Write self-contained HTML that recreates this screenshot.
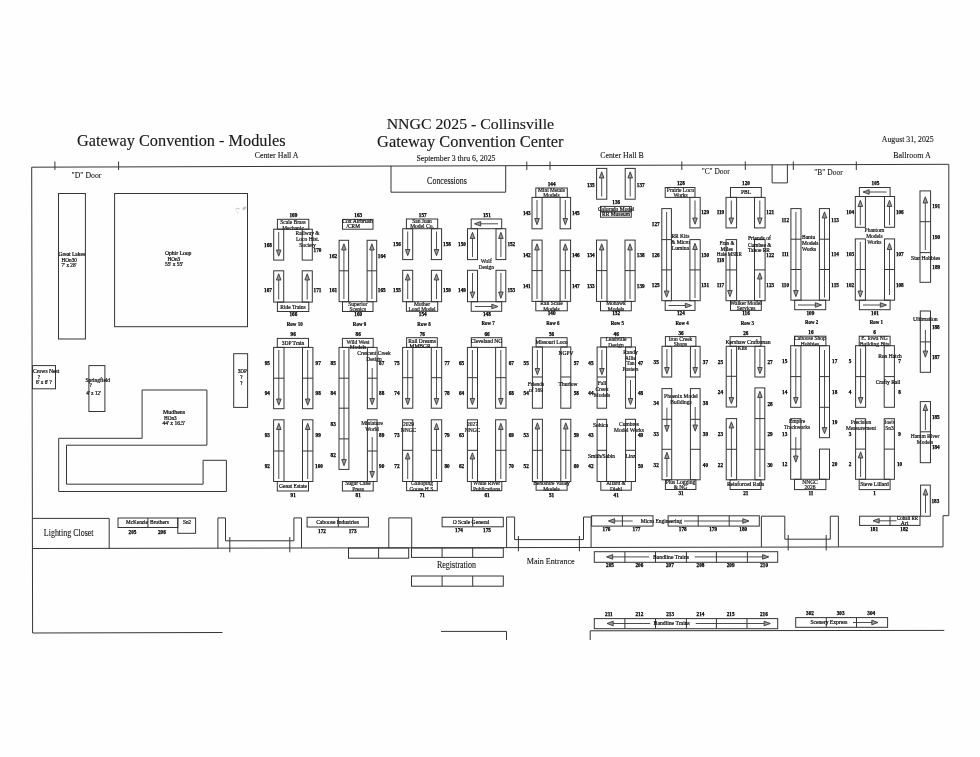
<!DOCTYPE html>
<html><head><meta charset="utf-8"><title>NNGC 2025 Floor Plan</title>
<style>
html,body{margin:0;padding:0;background:#fff;}
svg{display:block;font-family:"Liberation Serif",serif;will-change:transform;}
</style></head><body>
<svg width="980" height="757" viewBox="0 0 980 757">
<rect x="0" y="0" width="980" height="757" fill="#fefefe"/>
<text x="181.3" y="145.8" font-size="16" text-anchor="middle" textLength="208.5" lengthAdjust="spacingAndGlyphs" fill="#1a1a1a" stroke="#1a1a1a" stroke-width="0.15">Gateway Convention - Modules</text>
<text x="470.4" y="129.4" font-size="15.5" text-anchor="middle" textLength="167.4" lengthAdjust="spacingAndGlyphs" fill="#1a1a1a" stroke="#1a1a1a" stroke-width="0.15">NNGC 2025 - Collinsville</text>
<text x="470.3" y="147.2" font-size="16" text-anchor="middle" textLength="186.4" lengthAdjust="spacingAndGlyphs" fill="#1a1a1a" stroke="#1a1a1a" stroke-width="0.15">Gateway Convention Center</text>
<text x="456.0" y="161.0" font-size="8.6" text-anchor="middle" textLength="79.0" lengthAdjust="spacingAndGlyphs" fill="#111" stroke="#111" stroke-width="0.1">September 3 thru 6, 2025</text>
<text x="276.6" y="158.4" font-size="8.6" text-anchor="middle" textLength="43.9" lengthAdjust="spacingAndGlyphs" fill="#111" stroke="#111" stroke-width="0.1">Center Hall A</text>
<text x="622.0" y="158.4" font-size="8.6" text-anchor="middle" textLength="43.6" lengthAdjust="spacingAndGlyphs" fill="#111" stroke="#111" stroke-width="0.1">Center Hall B</text>
<text x="907.7" y="141.6" font-size="8.6" text-anchor="middle" textLength="51.8" lengthAdjust="spacingAndGlyphs" fill="#111" stroke="#111" stroke-width="0.1">August 31, 2025</text>
<text x="912.0" y="157.6" font-size="8.6" text-anchor="middle" textLength="37.5" lengthAdjust="spacingAndGlyphs" fill="#111" stroke="#111" stroke-width="0.1">Ballroom A</text>
<text x="86.5" y="178.4" font-size="9" text-anchor="middle" textLength="29.8" lengthAdjust="spacingAndGlyphs" fill="#111" stroke="#111" stroke-width="0.1">"D" Door</text>
<text x="715.7" y="174.4" font-size="9" text-anchor="middle" textLength="28.1" lengthAdjust="spacingAndGlyphs" fill="#111" stroke="#111" stroke-width="0.1">"C" Door</text>
<text x="828.5" y="174.9" font-size="9" text-anchor="middle" textLength="28.6" lengthAdjust="spacingAndGlyphs" fill="#111" stroke="#111" stroke-width="0.1">"B" Door</text>
<text x="447.0" y="184.1" font-size="9.3" text-anchor="middle" textLength="39.8" lengthAdjust="spacingAndGlyphs" fill="#111" stroke="#111" stroke-width="0.1">Concessions</text>
<text x="68.7" y="536.4" font-size="9.3" text-anchor="middle" textLength="49.7" lengthAdjust="spacingAndGlyphs" fill="#111" stroke="#111" stroke-width="0.1">Lighting Closet</text>
<text x="456.5" y="568.3" font-size="9.3" text-anchor="middle" textLength="39.0" lengthAdjust="spacingAndGlyphs" fill="#111" stroke="#111" stroke-width="0.1">Registration</text>
<text x="550.7" y="564.0" font-size="9.0" text-anchor="middle" textLength="47.9" lengthAdjust="spacingAndGlyphs" fill="#111" stroke="#111" stroke-width="0.1">Main Entrance</text>
<line x1="31.7" y1="167.2" x2="948.8" y2="164.3" stroke="#353535" stroke-width="1.0"/>
<line x1="31.7" y1="167.2" x2="32.6" y2="633.0" stroke="#353535" stroke-width="1.0"/>
<line x1="948.8" y1="164.3" x2="948.8" y2="515.7" stroke="#353535" stroke-width="1.0"/>
<polyline points="948.8,515.7 943.0,515.7 943.0,546.9 838.4,546.9" fill="none" stroke="#353535" stroke-width="1.0"/>
<line x1="32.6" y1="548.5" x2="838.4" y2="547.0" stroke="#353535" stroke-width="1.0"/>
<line x1="32.6" y1="633.0" x2="222.5" y2="632.5" stroke="#353535" stroke-width="1.0"/>
<line x1="441.0" y1="631.4" x2="506.5" y2="631.4" stroke="#353535" stroke-width="1.0"/>
<line x1="506.5" y1="631.4" x2="506.5" y2="640.0" stroke="#353535" stroke-width="1.0"/>
<line x1="590.2" y1="630.8" x2="944.3" y2="630.4" stroke="#353535" stroke-width="1.0"/>
<line x1="590.2" y1="630.8" x2="590.2" y2="640.0" stroke="#353535" stroke-width="1.0"/>
<line x1="54.9" y1="161.5" x2="54.9" y2="170.0" stroke="#353535" stroke-width="1.0"/>
<line x1="118.6" y1="161.5" x2="118.6" y2="170.0" stroke="#353535" stroke-width="1.0"/>
<line x1="526.8" y1="161.5" x2="526.8" y2="170.0" stroke="#353535" stroke-width="1.0"/>
<line x1="550.0" y1="161.5" x2="550.0" y2="170.0" stroke="#353535" stroke-width="1.0"/>
<line x1="681.8" y1="161.5" x2="681.8" y2="170.0" stroke="#353535" stroke-width="1.0"/>
<line x1="745.3" y1="161.5" x2="745.3" y2="170.0" stroke="#353535" stroke-width="1.0"/>
<line x1="793.3" y1="161.5" x2="793.3" y2="170.0" stroke="#353535" stroke-width="1.0"/>
<line x1="856.3" y1="161.5" x2="856.3" y2="170.0" stroke="#353535" stroke-width="1.0"/>
<polyline points="772.1,164.5 772.1,182.9 787.4,182.9 787.4,164.5" fill="none" stroke="#353535" stroke-width="1.0"/>
<polyline points="391.0,165.7 391.0,192.2 505.7,192.2 505.7,165.7" fill="none" stroke="#353535" stroke-width="1.0"/>
<polyline points="217.9,548.3 217.9,517.9 225.5,517.9 225.5,540.8 293.9,540.8 293.9,517.9 301.5,517.9 301.5,548.0" fill="none" stroke="#353535" stroke-width="1.0"/>
<line x1="229.8" y1="537.0" x2="229.8" y2="552.3" stroke="#353535" stroke-width="1.0"/>
<line x1="289.8" y1="537.0" x2="289.8" y2="552.3" stroke="#353535" stroke-width="1.0"/>
<polyline points="388.8,548.0 388.8,517.9 411.7,517.9 411.7,548.0" fill="none" stroke="#353535" stroke-width="1.0"/>
<polyline points="506.6,547.5 506.6,517.0 514.6,517.0 514.6,539.6 583.5,539.6 583.5,517.0 591.1,517.0 591.1,547.3" fill="none" stroke="#353535" stroke-width="1.0"/>
<line x1="518.4" y1="536.0" x2="518.4" y2="551.3" stroke="#353535" stroke-width="1.0"/>
<line x1="579.4" y1="536.0" x2="579.4" y2="551.3" stroke="#353535" stroke-width="1.0"/>
<polyline points="761.4,547.0 761.4,516.2 784.8,516.2 784.8,539.2 830.3,539.2 830.3,516.2 838.4,516.2 838.4,546.9" fill="none" stroke="#353535" stroke-width="1.0"/>
<line x1="788.2" y1="535.0" x2="788.2" y2="550.5" stroke="#353535" stroke-width="1.0"/>
<line x1="826.2" y1="535.0" x2="826.2" y2="550.5" stroke="#353535" stroke-width="1.0"/>
<rect x="58.5" y="193.5" width="26.9" height="145.5" fill="none" stroke="#353535" stroke-width="1.0"/>
<text x="58.5" y="256.1" font-size="5.2" text-anchor="start" textLength="26.5" lengthAdjust="spacingAndGlyphs" fill="#111" stroke="#111" stroke-width="0.22">Great Lakes</text>
<text x="61.6" y="261.7" font-size="5.2" text-anchor="start" fill="#111" stroke="#111" stroke-width="0.22">HOn30</text>
<text x="61.6" y="267.1" font-size="5.2" text-anchor="start" fill="#111" stroke="#111" stroke-width="0.22">7' x 28'</text>
<rect x="114.6" y="193.5" width="132.9" height="133.2" fill="none" stroke="#353535" stroke-width="1.0"/>
<text x="164.9" y="255.3" font-size="5.3" text-anchor="start" textLength="26.5" lengthAdjust="spacingAndGlyphs" fill="#111" stroke="#111" stroke-width="0.22">Ophir Loop</text>
<text x="167.4" y="260.7" font-size="5.2" text-anchor="start" fill="#111" stroke="#111" stroke-width="0.22">HOn3</text>
<text x="164.9" y="266.3" font-size="5.3" text-anchor="start" textLength="18.4" lengthAdjust="spacingAndGlyphs" fill="#111" stroke="#111" stroke-width="0.22">55' x 55'</text>
<rect x="32.5" y="365.6" width="23.0" height="23.2" fill="none" stroke="#353535" stroke-width="1.0"/>
<text x="33.0" y="372.8" font-size="5.3" text-anchor="start" textLength="26.2" lengthAdjust="spacingAndGlyphs" fill="#111" stroke="#111" stroke-width="0.22">Crows Nest</text>
<text x="38.9" y="378.6" font-size="5.2" text-anchor="middle" fill="#111" stroke="#111" stroke-width="0.22">?</text>
<text x="36.0" y="384.4" font-size="5.2" text-anchor="start" fill="#111" stroke="#111" stroke-width="0.22">6' x 6' ?</text>
<rect x="88.9" y="365.6" width="16.0" height="45.9" fill="none" stroke="#353535" stroke-width="1.0"/>
<text x="85.4" y="381.5" font-size="5.3" text-anchor="start" textLength="24.7" lengthAdjust="spacingAndGlyphs" fill="#111" stroke="#111" stroke-width="0.22">Springfield</text>
<text x="90.6" y="387.3" font-size="5.2" text-anchor="middle" fill="#111" stroke="#111" stroke-width="0.22">?</text>
<text x="86.3" y="394.6" font-size="5.2" text-anchor="start" fill="#111" stroke="#111" stroke-width="0.22">4' x 12'</text>
<rect x="233.7" y="353.7" width="13.9" height="53.7" fill="none" stroke="#353535" stroke-width="1.0"/>
<text x="242.3" y="373.1" font-size="5.2" text-anchor="middle" fill="#111" stroke="#111" stroke-width="0.22">3DP</text>
<text x="241.5" y="378.9" font-size="5.2" text-anchor="middle" fill="#111" stroke="#111" stroke-width="0.22">?</text>
<text x="241.5" y="384.7" font-size="5.2" text-anchor="middle" fill="#111" stroke="#111" stroke-width="0.22">?</text>
<polygon points="142.1,390.0 206.9,390.0 206.9,445.2 66.5,445.2 66.5,484.2 203.1,484.2 203.1,460.3 226.4,460.3 226.4,491.5 58.7,491.5 58.7,438.3 142.1,438.3" fill="none" stroke="#353535" stroke-width="1.0"/>
<text x="163.0" y="413.8" font-size="5.3" text-anchor="start" textLength="22.1" lengthAdjust="spacingAndGlyphs" fill="#111" stroke="#111" stroke-width="0.22">Mudhens</text>
<text x="163.9" y="419.6" font-size="5.2" text-anchor="start" fill="#111" stroke="#111" stroke-width="0.22">HOn3</text>
<text x="162.4" y="425.1" font-size="5.3" text-anchor="start" textLength="22.7" lengthAdjust="spacingAndGlyphs" fill="#111" stroke="#111" stroke-width="0.22">44' x 16.5'</text>
<polyline points="32.6,518.4 109.2,518.4 109.2,548.5" fill="none" stroke="#353535" stroke-width="1.0"/>
<rect x="118.0" y="518.0" width="59.8" height="9.5" fill="none" stroke="#353535" stroke-width="1.0"/>
<line x1="147.9" y1="518.0" x2="147.9" y2="527.5" stroke="#353535" stroke-width="1.0"/>
<text x="126.0" y="524.1" font-size="5.5" text-anchor="start" textLength="21.9" lengthAdjust="spacingAndGlyphs" fill="#111" stroke="#111" stroke-width="0.22">McKenzie</text>
<text x="150.0" y="524.1" font-size="5.5" text-anchor="start" textLength="18.8" lengthAdjust="spacingAndGlyphs" fill="#111" stroke="#111" stroke-width="0.22">Brothers</text>
<rect x="177.8" y="518.0" width="17.8" height="15.3" fill="none" stroke="#353535" stroke-width="1.0"/>
<text x="187.1" y="524.0" font-size="5.2" text-anchor="middle" fill="#111" stroke="#111" stroke-width="0.22">Sn2</text>
<text x="132.5" y="533.6" font-size="5.2" text-anchor="middle" font-weight="bold" fill="#000" stroke="#000" stroke-width="0.25">205</text>
<text x="161.9" y="533.6" font-size="5.2" text-anchor="middle" font-weight="bold" fill="#000" stroke="#000" stroke-width="0.25">206</text>
<rect x="307.1" y="517.3" width="61.3" height="9.7" fill="none" stroke="#353535" stroke-width="1.0"/>
<line x1="338.3" y1="517.3" x2="338.3" y2="527.0" stroke="#353535" stroke-width="1.0"/>
<text x="337.5" y="523.7" font-size="5.6" text-anchor="middle" textLength="42.7" lengthAdjust="spacingAndGlyphs" fill="#111" stroke="#111" stroke-width="0.22">Caboose Industries</text>
<text x="322.0" y="532.9" font-size="5.2" text-anchor="middle" font-weight="bold" fill="#000" stroke="#000" stroke-width="0.25">172</text>
<text x="352.6" y="532.9" font-size="5.2" text-anchor="middle" font-weight="bold" fill="#000" stroke="#000" stroke-width="0.25">173</text>
<rect x="442.1" y="517.3" width="61.2" height="9.5" fill="none" stroke="#353535" stroke-width="1.0"/>
<line x1="472.7" y1="517.3" x2="472.7" y2="526.8" stroke="#353535" stroke-width="1.0"/>
<text x="471.0" y="523.7" font-size="5.6" text-anchor="middle" textLength="36.7" lengthAdjust="spacingAndGlyphs" fill="#111" stroke="#111" stroke-width="0.22">O Scale General</text>
<text x="459.0" y="532.3" font-size="5.2" text-anchor="middle" font-weight="bold" fill="#000" stroke="#000" stroke-width="0.25">174</text>
<text x="487.0" y="532.3" font-size="5.2" text-anchor="middle" font-weight="bold" fill="#000" stroke="#000" stroke-width="0.25">175</text>
<rect x="348.5" y="548.0" width="60.2" height="10.2" fill="none" stroke="#353535" stroke-width="1.0"/>
<line x1="378.6" y1="548.0" x2="378.6" y2="558.2" stroke="#353535" stroke-width="1.0"/>
<rect x="411.5" y="548.0" width="91.8" height="9.4" fill="none" stroke="#353535" stroke-width="1.0"/>
<line x1="442.1" y1="548.0" x2="442.1" y2="557.4" stroke="#353535" stroke-width="1.0"/>
<line x1="472.7" y1="548.0" x2="472.7" y2="557.4" stroke="#353535" stroke-width="1.0"/>
<rect x="411.5" y="576.0" width="91.8" height="10.2" fill="none" stroke="#353535" stroke-width="1.0"/>
<line x1="442.1" y1="576.0" x2="442.1" y2="586.2" stroke="#353535" stroke-width="1.0"/>
<line x1="472.7" y1="576.0" x2="472.7" y2="586.2" stroke="#353535" stroke-width="1.0"/>
<rect x="591.6" y="515.8" width="61.4" height="10.3" fill="none" stroke="#353535" stroke-width="1.0"/>
<line x1="622.4" y1="515.8" x2="622.4" y2="526.1" stroke="#353535" stroke-width="1.0"/>
<rect x="668.1" y="515.8" width="91.2" height="10.3" fill="none" stroke="#353535" stroke-width="1.0"/>
<line x1="698.2" y1="515.8" x2="698.2" y2="526.1" stroke="#353535" stroke-width="1.0"/>
<line x1="729.2" y1="515.8" x2="729.2" y2="526.1" stroke="#353535" stroke-width="1.0"/>
<line x1="632.7" y1="521.0" x2="609.9" y2="521.0" stroke="#3a3a3a" stroke-width="0.9"/>
<polygon points="614.6,518.7 608.4,521.0 614.6,523.3" fill="#999" stroke="#3a3a3a" stroke-width="0.9" stroke-linejoin="round"/>
<text x="661.4" y="522.8" font-size="5.6" text-anchor="middle" textLength="41.3" lengthAdjust="spacingAndGlyphs" fill="#111" stroke="#111" stroke-width="0.22">Micro Engineering</text>
<line x1="684.0" y1="521.0" x2="747.5" y2="521.0" stroke="#3a3a3a" stroke-width="0.9"/>
<polygon points="742.8,518.7 749.0,521.0 742.8,523.3" fill="#999" stroke="#3a3a3a" stroke-width="0.9" stroke-linejoin="round"/>
<text x="606.5" y="531.1" font-size="5.2" text-anchor="middle" font-weight="bold" fill="#000" stroke="#000" stroke-width="0.25">176</text>
<text x="636.5" y="531.1" font-size="5.2" text-anchor="middle" font-weight="bold" fill="#000" stroke="#000" stroke-width="0.25">177</text>
<text x="682.7" y="531.1" font-size="5.2" text-anchor="middle" font-weight="bold" fill="#000" stroke="#000" stroke-width="0.25">178</text>
<text x="713.1" y="531.1" font-size="5.2" text-anchor="middle" font-weight="bold" fill="#000" stroke="#000" stroke-width="0.25">179</text>
<text x="743.2" y="531.1" font-size="5.2" text-anchor="middle" font-weight="bold" fill="#000" stroke="#000" stroke-width="0.25">180</text>
<rect x="594.3" y="551.7" width="183.4" height="10.6" fill="none" stroke="#353535" stroke-width="1.0"/>
<line x1="624.9" y1="551.7" x2="624.9" y2="562.3" stroke="#353535" stroke-width="1.0"/>
<line x1="655.5" y1="551.7" x2="655.5" y2="562.3" stroke="#353535" stroke-width="1.0"/>
<line x1="686.4" y1="551.7" x2="686.4" y2="562.3" stroke="#353535" stroke-width="1.0"/>
<line x1="716.4" y1="551.7" x2="716.4" y2="562.3" stroke="#353535" stroke-width="1.0"/>
<line x1="747.4" y1="551.7" x2="747.4" y2="562.3" stroke="#353535" stroke-width="1.0"/>
<line x1="649.1" y1="556.9" x2="608.0" y2="556.9" stroke="#3a3a3a" stroke-width="0.9"/>
<polygon points="612.7,554.6 606.5,556.9 612.7,559.2" fill="#999" stroke="#3a3a3a" stroke-width="0.9" stroke-linejoin="round"/>
<text x="671.0" y="558.7" font-size="5.6" text-anchor="middle" textLength="35.9" lengthAdjust="spacingAndGlyphs" fill="#111" stroke="#111" stroke-width="0.22">Bandline Trains</text>
<line x1="694.7" y1="556.9" x2="767.3" y2="556.9" stroke="#3a3a3a" stroke-width="0.9"/>
<polygon points="762.6,554.6 768.8,556.9 762.6,559.2" fill="#999" stroke="#3a3a3a" stroke-width="0.9" stroke-linejoin="round"/>
<text x="610.0" y="567.3" font-size="5.2" text-anchor="middle" font-weight="bold" fill="#000" stroke="#000" stroke-width="0.25">205</text>
<text x="639.4" y="567.3" font-size="5.2" text-anchor="middle" font-weight="bold" fill="#000" stroke="#000" stroke-width="0.25">206</text>
<text x="669.9" y="567.3" font-size="5.2" text-anchor="middle" font-weight="bold" fill="#000" stroke="#000" stroke-width="0.25">207</text>
<text x="700.5" y="567.3" font-size="5.2" text-anchor="middle" font-weight="bold" fill="#000" stroke="#000" stroke-width="0.25">208</text>
<text x="730.6" y="567.3" font-size="5.2" text-anchor="middle" font-weight="bold" fill="#000" stroke="#000" stroke-width="0.25">209</text>
<text x="764.1" y="567.3" font-size="5.2" text-anchor="middle" font-weight="bold" fill="#000" stroke="#000" stroke-width="0.25">210</text>
<rect x="594.3" y="618.6" width="183.4" height="10.1" fill="none" stroke="#353535" stroke-width="1.0"/>
<line x1="624.9" y1="618.6" x2="624.9" y2="628.7" stroke="#353535" stroke-width="1.0"/>
<line x1="655.5" y1="618.6" x2="655.5" y2="628.7" stroke="#353535" stroke-width="1.0"/>
<line x1="686.4" y1="618.6" x2="686.4" y2="628.7" stroke="#353535" stroke-width="1.0"/>
<line x1="716.4" y1="618.6" x2="716.4" y2="628.7" stroke="#353535" stroke-width="1.0"/>
<line x1="747.0" y1="618.6" x2="747.0" y2="628.7" stroke="#353535" stroke-width="1.0"/>
<line x1="650.1" y1="623.5" x2="608.5" y2="623.5" stroke="#3a3a3a" stroke-width="0.9"/>
<polygon points="613.2,621.2 607.0,623.5 613.2,625.8" fill="#999" stroke="#3a3a3a" stroke-width="0.9" stroke-linejoin="round"/>
<text x="671.7" y="625.3" font-size="5.6" text-anchor="middle" textLength="36.2" lengthAdjust="spacingAndGlyphs" fill="#111" stroke="#111" stroke-width="0.22">Bandline Trains</text>
<line x1="695.7" y1="623.5" x2="768.8" y2="623.5" stroke="#3a3a3a" stroke-width="0.9"/>
<polygon points="764.1,621.2 770.3,623.5 764.1,625.8" fill="#999" stroke="#3a3a3a" stroke-width="0.9" stroke-linejoin="round"/>
<text x="608.8" y="616.4" font-size="5.2" text-anchor="middle" font-weight="bold" fill="#000" stroke="#000" stroke-width="0.25">211</text>
<text x="639.4" y="616.4" font-size="5.2" text-anchor="middle" font-weight="bold" fill="#000" stroke="#000" stroke-width="0.25">212</text>
<text x="670.1" y="616.4" font-size="5.2" text-anchor="middle" font-weight="bold" fill="#000" stroke="#000" stroke-width="0.25">213</text>
<text x="700.5" y="616.4" font-size="5.2" text-anchor="middle" font-weight="bold" fill="#000" stroke="#000" stroke-width="0.25">214</text>
<text x="730.6" y="616.4" font-size="5.2" text-anchor="middle" font-weight="bold" fill="#000" stroke="#000" stroke-width="0.25">215</text>
<text x="763.9" y="616.4" font-size="5.2" text-anchor="middle" font-weight="bold" fill="#000" stroke="#000" stroke-width="0.25">216</text>
<rect x="795.7" y="617.6" width="91.9" height="9.7" fill="none" stroke="#353535" stroke-width="1.0"/>
<line x1="826.3" y1="617.6" x2="826.3" y2="627.3" stroke="#353535" stroke-width="1.0"/>
<line x1="856.5" y1="617.6" x2="856.5" y2="627.3" stroke="#353535" stroke-width="1.0"/>
<text x="829.0" y="624.3" font-size="5.6" text-anchor="middle" textLength="37.0" lengthAdjust="spacingAndGlyphs" fill="#111" stroke="#111" stroke-width="0.22">Scenery Express</text>
<line x1="853.0" y1="622.5" x2="876.5" y2="622.5" stroke="#3a3a3a" stroke-width="0.9"/>
<polygon points="871.8,620.2 878.0,622.5 871.8,624.8" fill="#999" stroke="#3a3a3a" stroke-width="0.9" stroke-linejoin="round"/>
<text x="810.0" y="615.2" font-size="5.2" text-anchor="middle" font-weight="bold" fill="#000" stroke="#000" stroke-width="0.25">302</text>
<text x="840.6" y="615.2" font-size="5.2" text-anchor="middle" font-weight="bold" fill="#000" stroke="#000" stroke-width="0.25">303</text>
<text x="871.2" y="615.2" font-size="5.2" text-anchor="middle" font-weight="bold" fill="#000" stroke="#000" stroke-width="0.25">304</text>
<rect x="859.6" y="516.2" width="60.4" height="9.2" fill="none" stroke="#353535" stroke-width="1.0"/>
<line x1="890.0" y1="516.2" x2="890.0" y2="525.4" stroke="#353535" stroke-width="1.0"/>
<line x1="896.5" y1="520.8" x2="874.5" y2="520.8" stroke="#3a3a3a" stroke-width="0.9"/>
<polygon points="879.2,518.5 873.0,520.8 879.2,523.1" fill="#999" stroke="#3a3a3a" stroke-width="0.9" stroke-linejoin="round"/>
<text x="907.5" y="520.1" font-size="5.5" text-anchor="middle" textLength="21.0" lengthAdjust="spacingAndGlyphs" fill="#111" stroke="#111" stroke-width="0.22">Cobalt RR</text>
<text x="904.5" y="525.4" font-size="5.5" text-anchor="middle" fill="#111" stroke="#111" stroke-width="0.22">Art</text>
<text x="874.1" y="530.7" font-size="5.2" text-anchor="middle" font-weight="bold" fill="#000" stroke="#000" stroke-width="0.25">181</text>
<text x="904.2" y="530.7" font-size="5.2" text-anchor="middle" font-weight="bold" fill="#000" stroke="#000" stroke-width="0.25">182</text>
<rect x="920.6" y="485.1" width="9.7" height="31.1" fill="none" stroke="#353535" stroke-width="1.0"/>
<line x1="925.5" y1="513.0" x2="925.5" y2="490.3" stroke="#3a3a3a" stroke-width="0.9"/>
<polygon points="923.2,495.0 925.5,488.8 927.8,495.0" fill="#999" stroke="#3a3a3a" stroke-width="0.9" stroke-linejoin="round"/>
<text x="935.4" y="502.6" font-size="5.2" text-anchor="middle" font-weight="bold" fill="#000" stroke="#000" stroke-width="0.25">183</text>
<rect x="920.0" y="190.9" width="10.6" height="91.4" fill="none" stroke="#353535" stroke-width="1.0"/>
<line x1="920.0" y1="221.7" x2="930.6" y2="221.7" stroke="#353535" stroke-width="1.0"/>
<line x1="920.0" y1="252.6" x2="930.6" y2="252.6" stroke="#353535" stroke-width="1.0"/>
<line x1="925.3" y1="250.0" x2="925.3" y2="198.3" stroke="#3a3a3a" stroke-width="0.9"/>
<polygon points="923.0,203.0 925.3,196.8 927.6,203.0" fill="#999" stroke="#3a3a3a" stroke-width="0.9" stroke-linejoin="round"/>
<text x="936.2" y="208.3" font-size="5.2" text-anchor="middle" font-weight="bold" fill="#000" stroke="#000" stroke-width="0.25">191</text>
<text x="936.2" y="238.6" font-size="5.2" text-anchor="middle" font-weight="bold" fill="#000" stroke="#000" stroke-width="0.25">190</text>
<text x="936.2" y="269.4" font-size="5.2" text-anchor="middle" font-weight="bold" fill="#000" stroke="#000" stroke-width="0.25">189</text>
<text x="925.6" y="259.8" font-size="5.5" text-anchor="middle" textLength="29.0" lengthAdjust="spacingAndGlyphs" fill="#111" stroke="#111" stroke-width="0.22">Star Hobbies</text>
<rect x="920.3" y="311.0" width="10.2" height="61.3" fill="none" stroke="#353535" stroke-width="1.0"/>
<line x1="920.3" y1="341.9" x2="930.5" y2="341.9" stroke="#353535" stroke-width="1.0"/>
<line x1="925.4" y1="330.0" x2="925.4" y2="355.7" stroke="#3a3a3a" stroke-width="0.9"/>
<polygon points="923.1,351.0 925.4,357.2 927.7,351.0" fill="#999" stroke="#3a3a3a" stroke-width="0.9" stroke-linejoin="round"/>
<text x="925.3" y="320.7" font-size="5.5" text-anchor="middle" textLength="24.5" lengthAdjust="spacingAndGlyphs" fill="#111" stroke="#111" stroke-width="0.22">Ultimation</text>
<text x="935.8" y="328.8" font-size="5.2" text-anchor="middle" font-weight="bold" fill="#000" stroke="#000" stroke-width="0.25">188</text>
<text x="935.8" y="359.3" font-size="5.2" text-anchor="middle" font-weight="bold" fill="#000" stroke="#000" stroke-width="0.25">187</text>
<rect x="920.3" y="401.6" width="10.2" height="61.1" fill="none" stroke="#353535" stroke-width="1.0"/>
<line x1="920.3" y1="431.8" x2="930.5" y2="431.8" stroke="#353535" stroke-width="1.0"/>
<line x1="925.4" y1="430.0" x2="925.4" y2="405.8" stroke="#3a3a3a" stroke-width="0.9"/>
<polygon points="923.1,410.5 925.4,404.3 927.7,410.5" fill="#999" stroke="#3a3a3a" stroke-width="0.9" stroke-linejoin="round"/>
<text x="925.0" y="437.8" font-size="5.5" text-anchor="middle" fill="#222" stroke="#222" stroke-width="0.22">Hamm River</text>
<text x="925.0" y="443.8" font-size="5.5" text-anchor="middle" fill="#222" stroke="#222" stroke-width="0.22">Models</text>
<text x="935.8" y="418.7" font-size="5.2" text-anchor="middle" font-weight="bold" fill="#000" stroke="#000" stroke-width="0.25">185</text>
<text x="935.8" y="448.9" font-size="5.2" text-anchor="middle" font-weight="bold" fill="#000" stroke="#000" stroke-width="0.25">184</text>
<path d="M235.3,209.5 Q237.5,207.2 239.6,209.0" fill="none" stroke="#b8b8b8" stroke-width="0.9"/>
<path d="M236.2,211.8 Q237.2,213.6 238.6,212.4" fill="none" stroke="#d0d0d0" stroke-width="0.8"/>
<ellipse cx="244.3" cy="208.3" rx="2.4" ry="1.3" transform="rotate(-40 244.3 208.3)" fill="#c4c4c4"/>
<text x="293.4" y="216.9" font-size="5.2" text-anchor="middle" font-weight="bold" fill="#000" stroke="#000" stroke-width="0.25">169</text>
<rect x="277.4" y="219.3" width="31.4" height="9.9" fill="none" stroke="#353535" stroke-width="1.0"/>
<text x="293.0" y="224.0" font-size="5.5" text-anchor="middle" fill="#222" stroke="#222" stroke-width="0.22">Scale Brass</text>
<text x="293.0" y="229.6" font-size="5.5" text-anchor="middle" fill="#222" stroke="#222" stroke-width="0.22">Mechanic</text>
<rect x="273.7" y="229.2" width="10.0" height="30.9" fill="none" stroke="#353535" stroke-width="1.0"/>
<line x1="278.7" y1="232.0" x2="278.7" y2="254.7" stroke="#3a3a3a" stroke-width="0.9"/>
<polygon points="276.4,250.0 278.7,256.2 281.0,250.0" fill="#999" stroke="#3a3a3a" stroke-width="0.9" stroke-linejoin="round"/>
<rect x="302.2" y="229.2" width="10.1" height="30.9" fill="none" stroke="#353535" stroke-width="1.0"/>
<text x="307.6" y="235.0" font-size="5.5" text-anchor="middle" fill="#222" stroke="#222" stroke-width="0.22">Railway &amp;</text>
<text x="307.6" y="240.8" font-size="5.5" text-anchor="middle" fill="#222" stroke="#222" stroke-width="0.22">Loco Hist.</text>
<text x="307.6" y="246.6" font-size="5.5" text-anchor="middle" fill="#222" stroke="#222" stroke-width="0.22">Society</text>
<text x="268.0" y="246.5" font-size="5.2" text-anchor="middle" font-weight="bold" fill="#000" stroke="#000" stroke-width="0.25">168</text>
<text x="317.5" y="251.7" font-size="5.2" text-anchor="middle" font-weight="bold" fill="#000" stroke="#000" stroke-width="0.25">170</text>
<rect x="273.7" y="270.8" width="10.0" height="31.3" fill="none" stroke="#353535" stroke-width="1.0"/>
<line x1="278.7" y1="299.5" x2="278.7" y2="275.3" stroke="#3a3a3a" stroke-width="0.9"/>
<polygon points="276.4,280.0 278.7,273.8 281.0,280.0" fill="#999" stroke="#3a3a3a" stroke-width="0.9" stroke-linejoin="round"/>
<rect x="302.2" y="270.8" width="10.1" height="31.3" fill="none" stroke="#353535" stroke-width="1.0"/>
<line x1="307.2" y1="299.5" x2="307.2" y2="275.3" stroke="#3a3a3a" stroke-width="0.9"/>
<polygon points="304.9,280.0 307.2,273.8 309.5,280.0" fill="#999" stroke="#3a3a3a" stroke-width="0.9" stroke-linejoin="round"/>
<text x="268.0" y="292.3" font-size="5.2" text-anchor="middle" font-weight="bold" fill="#000" stroke="#000" stroke-width="0.25">167</text>
<text x="317.5" y="292.3" font-size="5.2" text-anchor="middle" font-weight="bold" fill="#000" stroke="#000" stroke-width="0.25">171</text>
<rect x="277.4" y="302.1" width="31.4" height="9.4" fill="none" stroke="#353535" stroke-width="1.0"/>
<text x="293.0" y="308.6" font-size="5.5" text-anchor="middle" fill="#111" stroke="#111" stroke-width="0.22">Ride Trains</text>
<text x="293.4" y="316.4" font-size="5.2" text-anchor="middle" font-weight="bold" fill="#000" stroke="#000" stroke-width="0.25">166</text>
<text x="294.7" y="325.9" font-size="5.8" text-anchor="middle" font-weight="bold" textLength="16.0" lengthAdjust="spacingAndGlyphs" fill="#000" stroke="#000" stroke-width="0.2">Row 10</text>
<text x="358.2" y="216.9" font-size="5.2" text-anchor="middle" font-weight="bold" fill="#000" stroke="#000" stroke-width="0.25">163</text>
<rect x="342.5" y="219.4" width="30.5" height="9.8" fill="none" stroke="#353535" stroke-width="1.0"/>
<text x="357.5" y="223.1" font-size="5.5" text-anchor="middle" textLength="30.5" lengthAdjust="spacingAndGlyphs" fill="#111" stroke="#111" stroke-width="0.22">Cox Airbrush</text>
<text x="346.5" y="227.8" font-size="5.5" text-anchor="start" textLength="13.5" lengthAdjust="spacingAndGlyphs" fill="#111" stroke="#111" stroke-width="0.22">/CRM</text>
<rect x="339.1" y="240.3" width="9.5" height="61.4" fill="none" stroke="#353535" stroke-width="1.0"/>
<line x1="339.1" y1="270.8" x2="348.6" y2="270.8" stroke="#353535" stroke-width="1.0"/>
<line x1="343.9" y1="299.0" x2="343.9" y2="245.3" stroke="#3a3a3a" stroke-width="0.9"/>
<polygon points="341.6,250.0 343.9,243.8 346.2,250.0" fill="#999" stroke="#3a3a3a" stroke-width="0.9" stroke-linejoin="round"/>
<rect x="367.1" y="240.3" width="9.6" height="61.4" fill="none" stroke="#353535" stroke-width="1.0"/>
<line x1="367.1" y1="270.8" x2="376.7" y2="270.8" stroke="#353535" stroke-width="1.0"/>
<line x1="371.9" y1="299.0" x2="371.9" y2="245.3" stroke="#3a3a3a" stroke-width="0.9"/>
<polygon points="369.6,250.0 371.9,243.8 374.2,250.0" fill="#999" stroke="#3a3a3a" stroke-width="0.9" stroke-linejoin="round"/>
<text x="333.2" y="257.6" font-size="5.2" text-anchor="middle" font-weight="bold" fill="#000" stroke="#000" stroke-width="0.25">162</text>
<text x="333.2" y="292.3" font-size="5.2" text-anchor="middle" font-weight="bold" fill="#000" stroke="#000" stroke-width="0.25">161</text>
<text x="381.7" y="257.6" font-size="5.2" text-anchor="middle" font-weight="bold" fill="#000" stroke="#000" stroke-width="0.25">164</text>
<text x="381.7" y="292.3" font-size="5.2" text-anchor="middle" font-weight="bold" fill="#000" stroke="#000" stroke-width="0.25">165</text>
<rect x="342.5" y="301.7" width="30.5" height="9.8" fill="none" stroke="#353535" stroke-width="1.0"/>
<text x="357.8" y="305.7" font-size="5.5" text-anchor="middle" fill="#222" stroke="#222" stroke-width="0.22">Superior</text>
<text x="357.8" y="311.2" font-size="5.5" text-anchor="middle" fill="#222" stroke="#222" stroke-width="0.22">Scenics</text>
<text x="358.2" y="316.4" font-size="5.2" text-anchor="middle" font-weight="bold" fill="#000" stroke="#000" stroke-width="0.25">160</text>
<text x="359.5" y="325.7" font-size="5.8" text-anchor="middle" font-weight="bold" textLength="13.3" lengthAdjust="spacingAndGlyphs" fill="#000" stroke="#000" stroke-width="0.2">Row 9</text>
<text x="422.7" y="216.5" font-size="5.2" text-anchor="middle" font-weight="bold" fill="#000" stroke="#000" stroke-width="0.25">157</text>
<rect x="406.4" y="219.0" width="31.3" height="9.7" fill="none" stroke="#353535" stroke-width="1.0"/>
<text x="422.0" y="222.9" font-size="5.5" text-anchor="middle" fill="#222" stroke="#222" stroke-width="0.22">San Juan</text>
<text x="422.0" y="228.4" font-size="5.5" text-anchor="middle" fill="#222" stroke="#222" stroke-width="0.22">Model Co.</text>
<rect x="402.7" y="228.7" width="10.0" height="30.9" fill="none" stroke="#353535" stroke-width="1.0"/>
<line x1="407.7" y1="231.5" x2="407.7" y2="254.2" stroke="#3a3a3a" stroke-width="0.9"/>
<polygon points="405.4,249.5 407.7,255.7 410.0,249.5" fill="#999" stroke="#3a3a3a" stroke-width="0.9" stroke-linejoin="round"/>
<rect x="431.4" y="228.7" width="10.2" height="30.9" fill="none" stroke="#353535" stroke-width="1.0"/>
<line x1="436.5" y1="231.5" x2="436.5" y2="254.2" stroke="#3a3a3a" stroke-width="0.9"/>
<polygon points="434.2,249.5 436.5,255.7 438.8,249.5" fill="#999" stroke="#3a3a3a" stroke-width="0.9" stroke-linejoin="round"/>
<text x="397.0" y="246.1" font-size="5.2" text-anchor="middle" font-weight="bold" fill="#000" stroke="#000" stroke-width="0.25">156</text>
<text x="447.0" y="246.1" font-size="5.2" text-anchor="middle" font-weight="bold" fill="#000" stroke="#000" stroke-width="0.25">158</text>
<rect x="402.7" y="270.3" width="10.0" height="31.4" fill="none" stroke="#353535" stroke-width="1.0"/>
<line x1="407.7" y1="299.0" x2="407.7" y2="275.3" stroke="#3a3a3a" stroke-width="0.9"/>
<polygon points="405.4,280.0 407.7,273.8 410.0,280.0" fill="#999" stroke="#3a3a3a" stroke-width="0.9" stroke-linejoin="round"/>
<rect x="431.4" y="270.3" width="10.2" height="31.4" fill="none" stroke="#353535" stroke-width="1.0"/>
<line x1="436.5" y1="299.0" x2="436.5" y2="275.3" stroke="#3a3a3a" stroke-width="0.9"/>
<polygon points="434.2,280.0 436.5,273.8 438.8,280.0" fill="#999" stroke="#3a3a3a" stroke-width="0.9" stroke-linejoin="round"/>
<text x="397.0" y="292.0" font-size="5.2" text-anchor="middle" font-weight="bold" fill="#000" stroke="#000" stroke-width="0.25">155</text>
<text x="447.0" y="292.0" font-size="5.2" text-anchor="middle" font-weight="bold" fill="#000" stroke="#000" stroke-width="0.25">159</text>
<rect x="406.4" y="301.7" width="31.3" height="9.6" fill="none" stroke="#353535" stroke-width="1.0"/>
<text x="422.0" y="305.6" font-size="5.5" text-anchor="middle" fill="#222" stroke="#222" stroke-width="0.22">Mother</text>
<text x="422.0" y="311.1" font-size="5.5" text-anchor="middle" fill="#222" stroke="#222" stroke-width="0.22">Load Model</text>
<text x="422.7" y="316.4" font-size="5.2" text-anchor="middle" font-weight="bold" fill="#000" stroke="#000" stroke-width="0.25">154</text>
<text x="424.0" y="325.5" font-size="5.8" text-anchor="middle" font-weight="bold" textLength="13.3" lengthAdjust="spacingAndGlyphs" fill="#000" stroke="#000" stroke-width="0.2">Row 8</text>
<text x="486.9" y="216.5" font-size="5.2" text-anchor="middle" font-weight="bold" fill="#000" stroke="#000" stroke-width="0.25">151</text>
<rect x="471.2" y="219.0" width="30.5" height="9.7" fill="none" stroke="#353535" stroke-width="1.0"/>
<line x1="498.0" y1="223.8" x2="476.0" y2="223.8" stroke="#3a3a3a" stroke-width="0.9"/>
<polygon points="480.7,221.5 474.5,223.8 480.7,226.1" fill="#999" stroke="#3a3a3a" stroke-width="0.9" stroke-linejoin="round"/>
<rect x="467.5" y="228.7" width="10.0" height="30.9" fill="none" stroke="#353535" stroke-width="1.0"/>
<line x1="472.5" y1="257.0" x2="472.5" y2="233.8" stroke="#3a3a3a" stroke-width="0.9"/>
<polygon points="470.2,238.5 472.5,232.3 474.8,238.5" fill="#999" stroke="#3a3a3a" stroke-width="0.9" stroke-linejoin="round"/>
<rect x="496.0" y="228.7" width="9.8" height="30.9" fill="none" stroke="#353535" stroke-width="1.0"/>
<line x1="500.9" y1="257.0" x2="500.9" y2="233.8" stroke="#3a3a3a" stroke-width="0.9"/>
<polygon points="498.6,238.5 500.9,232.3 503.2,238.5" fill="#999" stroke="#3a3a3a" stroke-width="0.9" stroke-linejoin="round"/>
<text x="462.0" y="246.1" font-size="5.2" text-anchor="middle" font-weight="bold" fill="#000" stroke="#000" stroke-width="0.25">150</text>
<text x="511.3" y="246.1" font-size="5.2" text-anchor="middle" font-weight="bold" fill="#000" stroke="#000" stroke-width="0.25">152</text>
<text x="486.3" y="262.8" font-size="5.5" text-anchor="middle" fill="#222" stroke="#222" stroke-width="0.22">Wolf</text>
<text x="486.3" y="268.8" font-size="5.5" text-anchor="middle" fill="#222" stroke="#222" stroke-width="0.22">Design</text>
<rect x="467.5" y="270.3" width="10.0" height="31.4" fill="none" stroke="#353535" stroke-width="1.0"/>
<line x1="472.5" y1="273.0" x2="472.5" y2="296.7" stroke="#3a3a3a" stroke-width="0.9"/>
<polygon points="470.2,292.0 472.5,298.2 474.8,292.0" fill="#999" stroke="#3a3a3a" stroke-width="0.9" stroke-linejoin="round"/>
<rect x="496.0" y="270.3" width="9.8" height="31.4" fill="none" stroke="#353535" stroke-width="1.0"/>
<line x1="500.9" y1="273.0" x2="500.9" y2="296.7" stroke="#3a3a3a" stroke-width="0.9"/>
<polygon points="498.6,292.0 500.9,298.2 503.2,292.0" fill="#999" stroke="#3a3a3a" stroke-width="0.9" stroke-linejoin="round"/>
<text x="462.0" y="292.0" font-size="5.2" text-anchor="middle" font-weight="bold" fill="#000" stroke="#000" stroke-width="0.25">149</text>
<text x="511.3" y="292.0" font-size="5.2" text-anchor="middle" font-weight="bold" fill="#000" stroke="#000" stroke-width="0.25">153</text>
<rect x="471.2" y="301.7" width="30.5" height="9.6" fill="none" stroke="#353535" stroke-width="1.0"/>
<line x1="475.0" y1="306.5" x2="496.5" y2="306.5" stroke="#3a3a3a" stroke-width="0.9"/>
<polygon points="491.8,304.2 498.0,306.5 491.8,308.8" fill="#999" stroke="#3a3a3a" stroke-width="0.9" stroke-linejoin="round"/>
<text x="486.9" y="316.4" font-size="5.2" text-anchor="middle" font-weight="bold" fill="#000" stroke="#000" stroke-width="0.25">148</text>
<text x="488.2" y="325.3" font-size="5.8" text-anchor="middle" font-weight="bold" textLength="13.3" lengthAdjust="spacingAndGlyphs" fill="#000" stroke="#000" stroke-width="0.2">Row 7</text>
<text x="551.6" y="185.6" font-size="5.2" text-anchor="middle" font-weight="bold" fill="#000" stroke="#000" stroke-width="0.25">144</text>
<rect x="535.8" y="188.0" width="31.5" height="9.4" fill="none" stroke="#353535" stroke-width="1.0"/>
<text x="551.5" y="191.8" font-size="5.5" text-anchor="middle" fill="#222" stroke="#222" stroke-width="0.22">Mini Metals</text>
<text x="551.5" y="197.3" font-size="5.5" text-anchor="middle" fill="#222" stroke="#222" stroke-width="0.22">Models</text>
<rect x="532.0" y="197.4" width="10.1" height="31.4" fill="none" stroke="#353535" stroke-width="1.0"/>
<line x1="537.0" y1="200.0" x2="537.0" y2="223.2" stroke="#3a3a3a" stroke-width="0.9"/>
<polygon points="534.7,218.5 537.0,224.7 539.3,218.5" fill="#999" stroke="#3a3a3a" stroke-width="0.9" stroke-linejoin="round"/>
<rect x="560.1" y="197.4" width="10.5" height="31.4" fill="none" stroke="#353535" stroke-width="1.0"/>
<line x1="565.3" y1="200.0" x2="565.3" y2="223.2" stroke="#3a3a3a" stroke-width="0.9"/>
<polygon points="563.0,218.5 565.3,224.7 567.6,218.5" fill="#999" stroke="#3a3a3a" stroke-width="0.9" stroke-linejoin="round"/>
<text x="526.8" y="214.8" font-size="5.2" text-anchor="middle" font-weight="bold" fill="#000" stroke="#000" stroke-width="0.25">143</text>
<text x="575.8" y="214.8" font-size="5.2" text-anchor="middle" font-weight="bold" fill="#000" stroke="#000" stroke-width="0.25">145</text>
<rect x="532.0" y="240.1" width="10.1" height="61.3" fill="none" stroke="#353535" stroke-width="1.0"/>
<line x1="532.0" y1="270.6" x2="542.1" y2="270.6" stroke="#353535" stroke-width="1.0"/>
<line x1="537.0" y1="299.0" x2="537.0" y2="245.3" stroke="#3a3a3a" stroke-width="0.9"/>
<polygon points="534.7,250.0 537.0,243.8 539.3,250.0" fill="#999" stroke="#3a3a3a" stroke-width="0.9" stroke-linejoin="round"/>
<rect x="560.1" y="240.1" width="10.5" height="61.3" fill="none" stroke="#353535" stroke-width="1.0"/>
<line x1="560.1" y1="270.6" x2="570.6" y2="270.6" stroke="#353535" stroke-width="1.0"/>
<line x1="565.3" y1="299.0" x2="565.3" y2="245.3" stroke="#3a3a3a" stroke-width="0.9"/>
<polygon points="563.0,250.0 565.3,243.8 567.6,250.0" fill="#999" stroke="#3a3a3a" stroke-width="0.9" stroke-linejoin="round"/>
<text x="526.8" y="257.0" font-size="5.2" text-anchor="middle" font-weight="bold" fill="#000" stroke="#000" stroke-width="0.25">142</text>
<text x="526.8" y="287.8" font-size="5.2" text-anchor="middle" font-weight="bold" fill="#000" stroke="#000" stroke-width="0.25">141</text>
<text x="575.8" y="257.0" font-size="5.2" text-anchor="middle" font-weight="bold" fill="#000" stroke="#000" stroke-width="0.25">146</text>
<text x="575.8" y="287.8" font-size="5.2" text-anchor="middle" font-weight="bold" fill="#000" stroke="#000" stroke-width="0.25">147</text>
<rect x="535.8" y="301.4" width="31.5" height="9.4" fill="none" stroke="#353535" stroke-width="1.0"/>
<text x="551.5" y="305.2" font-size="5.5" text-anchor="middle" fill="#222" stroke="#222" stroke-width="0.22">Rail Scale</text>
<text x="551.5" y="310.7" font-size="5.5" text-anchor="middle" fill="#222" stroke="#222" stroke-width="0.22">Models</text>
<text x="551.6" y="315.4" font-size="5.2" text-anchor="middle" font-weight="bold" fill="#000" stroke="#000" stroke-width="0.25">140</text>
<text x="552.9" y="325.1" font-size="5.8" text-anchor="middle" font-weight="bold" textLength="13.3" lengthAdjust="spacingAndGlyphs" fill="#000" stroke="#000" stroke-width="0.2">Row 6</text>
<rect x="596.6" y="168.4" width="10.2" height="30.8" fill="none" stroke="#353535" stroke-width="1.0"/>
<line x1="601.7" y1="196.5" x2="601.7" y2="173.3" stroke="#3a3a3a" stroke-width="0.9"/>
<polygon points="599.4,178.0 601.7,171.8 604.0,178.0" fill="#999" stroke="#3a3a3a" stroke-width="0.9" stroke-linejoin="round"/>
<rect x="625.2" y="168.4" width="10.0" height="30.8" fill="none" stroke="#353535" stroke-width="1.0"/>
<line x1="630.2" y1="196.5" x2="630.2" y2="173.3" stroke="#3a3a3a" stroke-width="0.9"/>
<polygon points="627.9,178.0 630.2,171.8 632.5,178.0" fill="#999" stroke="#3a3a3a" stroke-width="0.9" stroke-linejoin="round"/>
<text x="590.8" y="186.7" font-size="5.2" text-anchor="middle" font-weight="bold" fill="#000" stroke="#000" stroke-width="0.25">135</text>
<text x="640.7" y="186.7" font-size="5.2" text-anchor="middle" font-weight="bold" fill="#000" stroke="#000" stroke-width="0.25">137</text>
<text x="616.2" y="204.3" font-size="5.2" text-anchor="middle" font-weight="bold" fill="#000" stroke="#000" stroke-width="0.25">136</text>
<rect x="600.5" y="206.4" width="30.8" height="5.4" fill="none" stroke="#353535" stroke-width="1.0"/>
<rect x="600.5" y="211.8" width="30.8" height="5.4" fill="none" stroke="#353535" stroke-width="1.0"/>
<text x="616.0" y="210.8" font-size="5.5" text-anchor="middle" fill="#111" stroke="#111" stroke-width="0.22">Colorado Model</text>
<text x="616.0" y="216.3" font-size="5.5" text-anchor="middle" fill="#111" stroke="#111" stroke-width="0.22">RR Museum</text>
<rect x="596.5" y="240.1" width="10.5" height="61.3" fill="none" stroke="#353535" stroke-width="1.0"/>
<line x1="596.5" y1="270.6" x2="607.0" y2="270.6" stroke="#353535" stroke-width="1.0"/>
<line x1="601.7" y1="299.0" x2="601.7" y2="245.3" stroke="#3a3a3a" stroke-width="0.9"/>
<polygon points="599.4,250.0 601.7,243.8 604.0,250.0" fill="#999" stroke="#3a3a3a" stroke-width="0.9" stroke-linejoin="round"/>
<rect x="625.0" y="240.1" width="10.1" height="61.3" fill="none" stroke="#353535" stroke-width="1.0"/>
<line x1="625.0" y1="270.6" x2="635.1" y2="270.6" stroke="#353535" stroke-width="1.0"/>
<line x1="630.0" y1="299.0" x2="630.0" y2="245.3" stroke="#3a3a3a" stroke-width="0.9"/>
<polygon points="627.7,250.0 630.0,243.8 632.3,250.0" fill="#999" stroke="#3a3a3a" stroke-width="0.9" stroke-linejoin="round"/>
<text x="590.8" y="257.0" font-size="5.2" text-anchor="middle" font-weight="bold" fill="#000" stroke="#000" stroke-width="0.25">134</text>
<text x="590.8" y="287.8" font-size="5.2" text-anchor="middle" font-weight="bold" fill="#000" stroke="#000" stroke-width="0.25">133</text>
<text x="640.7" y="257.0" font-size="5.2" text-anchor="middle" font-weight="bold" fill="#000" stroke="#000" stroke-width="0.25">138</text>
<text x="640.7" y="287.8" font-size="5.2" text-anchor="middle" font-weight="bold" fill="#000" stroke="#000" stroke-width="0.25">139</text>
<rect x="600.5" y="301.4" width="30.8" height="9.4" fill="none" stroke="#353535" stroke-width="1.0"/>
<text x="616.0" y="305.2" font-size="5.5" text-anchor="middle" fill="#222" stroke="#222" stroke-width="0.22">Mohawk</text>
<text x="616.0" y="310.7" font-size="5.5" text-anchor="middle" fill="#222" stroke="#222" stroke-width="0.22">Models</text>
<text x="616.1" y="315.4" font-size="5.2" text-anchor="middle" font-weight="bold" fill="#000" stroke="#000" stroke-width="0.25">132</text>
<text x="617.4" y="324.9" font-size="5.8" text-anchor="middle" font-weight="bold" textLength="13.3" lengthAdjust="spacingAndGlyphs" fill="#000" stroke="#000" stroke-width="0.2">Row 5</text>
<text x="680.9" y="185.2" font-size="5.2" text-anchor="middle" font-weight="bold" fill="#000" stroke="#000" stroke-width="0.25">128</text>
<rect x="665.2" y="187.5" width="29.8" height="9.9" fill="none" stroke="#353535" stroke-width="1.0"/>
<text x="680.5" y="191.6" font-size="5.5" text-anchor="middle" fill="#222" stroke="#222" stroke-width="0.22">Prairie Loco</text>
<text x="680.5" y="197.1" font-size="5.5" text-anchor="middle" fill="#222" stroke="#222" stroke-width="0.22">Works</text>
<rect x="689.9" y="197.4" width="10.3" height="30.5" fill="none" stroke="#353535" stroke-width="1.0"/>
<line x1="695.0" y1="200.5" x2="695.0" y2="222.7" stroke="#3a3a3a" stroke-width="0.9"/>
<polygon points="692.7,218.0 695.0,224.2 697.3,218.0" fill="#999" stroke="#3a3a3a" stroke-width="0.9" stroke-linejoin="round"/>
<text x="705.1" y="214.4" font-size="5.2" text-anchor="middle" font-weight="bold" fill="#000" stroke="#000" stroke-width="0.25">129</text>
<rect x="661.8" y="208.6" width="9.6" height="92.1" fill="none" stroke="#353535" stroke-width="1.0"/>
<line x1="661.8" y1="239.6" x2="671.4" y2="239.6" stroke="#353535" stroke-width="1.0"/>
<line x1="661.8" y1="269.9" x2="671.4" y2="269.9" stroke="#353535" stroke-width="1.0"/>
<line x1="666.6" y1="212.0" x2="666.6" y2="295.7" stroke="#3a3a3a" stroke-width="0.9"/>
<polygon points="664.3,291.0 666.6,297.2 668.9,291.0" fill="#999" stroke="#3a3a3a" stroke-width="0.9" stroke-linejoin="round"/>
<text x="655.7" y="226.0" font-size="5.2" text-anchor="middle" font-weight="bold" fill="#000" stroke="#000" stroke-width="0.25">127</text>
<text x="655.7" y="256.6" font-size="5.2" text-anchor="middle" font-weight="bold" fill="#000" stroke="#000" stroke-width="0.25">126</text>
<text x="655.7" y="287.4" font-size="5.2" text-anchor="middle" font-weight="bold" fill="#000" stroke="#000" stroke-width="0.25">125</text>
<rect x="689.9" y="239.6" width="10.3" height="61.1" fill="none" stroke="#353535" stroke-width="1.0"/>
<line x1="689.9" y1="269.9" x2="700.2" y2="269.9" stroke="#353535" stroke-width="1.0"/>
<line x1="695.0" y1="298.0" x2="695.0" y2="244.8" stroke="#3a3a3a" stroke-width="0.9"/>
<polygon points="692.7,249.5 695.0,243.3 697.3,249.5" fill="#999" stroke="#3a3a3a" stroke-width="0.9" stroke-linejoin="round"/>
<text x="705.1" y="256.6" font-size="5.2" text-anchor="middle" font-weight="bold" fill="#000" stroke="#000" stroke-width="0.25">130</text>
<text x="705.1" y="287.4" font-size="5.2" text-anchor="middle" font-weight="bold" fill="#000" stroke="#000" stroke-width="0.25">131</text>
<text x="671.4" y="237.8" font-size="5.5" text-anchor="start" fill="#111" stroke="#111" stroke-width="0.22">RR Kits</text>
<text x="671.0" y="243.8" font-size="5.5" text-anchor="start" fill="#111" stroke="#111" stroke-width="0.22">&amp; Micro</text>
<text x="671.8" y="249.8" font-size="5.5" text-anchor="start" fill="#111" stroke="#111" stroke-width="0.22">Lumina</text>
<rect x="665.2" y="300.7" width="29.8" height="9.7" fill="none" stroke="#353535" stroke-width="1.0"/>
<line x1="668.5" y1="305.5" x2="690.0" y2="305.5" stroke="#3a3a3a" stroke-width="0.9"/>
<polygon points="685.3,303.2 691.5,305.5 685.3,307.8" fill="#999" stroke="#3a3a3a" stroke-width="0.9" stroke-linejoin="round"/>
<text x="680.9" y="314.7" font-size="5.2" text-anchor="middle" font-weight="bold" fill="#000" stroke="#000" stroke-width="0.25">124</text>
<text x="682.2" y="324.7" font-size="5.8" text-anchor="middle" font-weight="bold" textLength="13.3" lengthAdjust="spacingAndGlyphs" fill="#000" stroke="#000" stroke-width="0.2">Row 4</text>
<text x="746.0" y="185.2" font-size="5.2" text-anchor="middle" font-weight="bold" fill="#000" stroke="#000" stroke-width="0.25">120</text>
<rect x="730.5" y="187.5" width="30.8" height="9.9" fill="none" stroke="#353535" stroke-width="1.0"/>
<text x="746.0" y="194.3" font-size="5.5" text-anchor="middle" fill="#111" stroke="#111" stroke-width="0.22">PBL</text>
<rect x="726.0" y="197.4" width="10.6" height="30.5" fill="none" stroke="#353535" stroke-width="1.0"/>
<line x1="731.3" y1="200.5" x2="731.3" y2="222.7" stroke="#3a3a3a" stroke-width="0.9"/>
<polygon points="729.0,218.0 731.3,224.2 733.6,218.0" fill="#999" stroke="#3a3a3a" stroke-width="0.9" stroke-linejoin="round"/>
<rect x="754.5" y="197.4" width="10.6" height="30.5" fill="none" stroke="#353535" stroke-width="1.0"/>
<line x1="759.8" y1="200.5" x2="759.8" y2="222.7" stroke="#3a3a3a" stroke-width="0.9"/>
<polygon points="757.5,218.0 759.8,224.2 762.1,218.0" fill="#999" stroke="#3a3a3a" stroke-width="0.9" stroke-linejoin="round"/>
<text x="720.4" y="214.4" font-size="5.2" text-anchor="middle" font-weight="bold" fill="#000" stroke="#000" stroke-width="0.25">119</text>
<text x="770.2" y="214.4" font-size="5.2" text-anchor="middle" font-weight="bold" fill="#000" stroke="#000" stroke-width="0.25">121</text>
<rect x="726.0" y="239.6" width="10.6" height="61.1" fill="none" stroke="#353535" stroke-width="1.0"/>
<line x1="726.0" y1="269.9" x2="736.6" y2="269.9" stroke="#353535" stroke-width="1.0"/>
<line x1="729.9" y1="254.4" x2="729.9" y2="295.2" stroke="#3a3a3a" stroke-width="0.9"/>
<polygon points="727.6,290.5 729.9,296.7 732.2,290.5" fill="#999" stroke="#3a3a3a" stroke-width="0.9" stroke-linejoin="round"/>
<rect x="754.5" y="239.6" width="10.6" height="61.1" fill="none" stroke="#353535" stroke-width="1.0"/>
<line x1="754.5" y1="269.9" x2="765.1" y2="269.9" stroke="#353535" stroke-width="1.0"/>
<line x1="759.8" y1="298.0" x2="759.8" y2="274.3" stroke="#3a3a3a" stroke-width="0.9"/>
<polygon points="757.5,279.0 759.8,272.8 762.1,279.0" fill="#999" stroke="#3a3a3a" stroke-width="0.9" stroke-linejoin="round"/>
<text x="727.0" y="244.8" font-size="5.5" text-anchor="middle" textLength="15.0" lengthAdjust="spacingAndGlyphs" fill="#111" stroke="#111" stroke-width="0.22">Fran &amp;</text>
<text x="726.8" y="251.2" font-size="5.5" text-anchor="middle" textLength="12.4" lengthAdjust="spacingAndGlyphs" fill="#111" stroke="#111" stroke-width="0.22">Miles</text>
<text x="729.3" y="256.1" font-size="5.5" text-anchor="middle" textLength="25.0" lengthAdjust="spacingAndGlyphs" fill="#111" stroke="#111" stroke-width="0.22">Hale MSRR</text>
<text x="748.0" y="240.4" font-size="5.5" text-anchor="start" textLength="22.8" lengthAdjust="spacingAndGlyphs" fill="#111" stroke="#111" stroke-width="0.22">Friends of</text>
<text x="748.0" y="246.5" font-size="5.5" text-anchor="start" textLength="23.4" lengthAdjust="spacingAndGlyphs" fill="#111" stroke="#111" stroke-width="0.22">Cumbee &amp;</text>
<text x="748.0" y="251.8" font-size="5.5" text-anchor="start" textLength="22.0" lengthAdjust="spacingAndGlyphs" fill="#111" stroke="#111" stroke-width="0.22">Tahoe RR</text>
<text x="720.4" y="262.0" font-size="5.2" text-anchor="middle" font-weight="bold" fill="#000" stroke="#000" stroke-width="0.25">118</text>
<text x="720.4" y="287.4" font-size="5.2" text-anchor="middle" font-weight="bold" fill="#000" stroke="#000" stroke-width="0.25">117</text>
<text x="770.2" y="256.6" font-size="5.2" text-anchor="middle" font-weight="bold" fill="#000" stroke="#000" stroke-width="0.25">122</text>
<text x="770.2" y="287.4" font-size="5.2" text-anchor="middle" font-weight="bold" fill="#000" stroke="#000" stroke-width="0.25">123</text>
<rect x="730.5" y="300.7" width="30.8" height="9.7" fill="none" stroke="#353535" stroke-width="1.0"/>
<text x="746.0" y="304.6" font-size="5.5" text-anchor="middle" fill="#222" stroke="#222" stroke-width="0.22">Walker Model</text>
<text x="746.0" y="310.1" font-size="5.5" text-anchor="middle" fill="#222" stroke="#222" stroke-width="0.22">Services</text>
<text x="746.0" y="314.7" font-size="5.2" text-anchor="middle" font-weight="bold" fill="#000" stroke="#000" stroke-width="0.25">116</text>
<text x="747.3" y="324.5" font-size="5.8" text-anchor="middle" font-weight="bold" textLength="13.3" lengthAdjust="spacingAndGlyphs" fill="#000" stroke="#000" stroke-width="0.2">Row 3</text>
<rect x="790.9" y="208.6" width="10.1" height="91.6" fill="none" stroke="#353535" stroke-width="1.0"/>
<line x1="790.9" y1="239.2" x2="801.0" y2="239.2" stroke="#353535" stroke-width="1.0"/>
<line x1="790.9" y1="269.5" x2="801.0" y2="269.5" stroke="#353535" stroke-width="1.0"/>
<line x1="795.9" y1="212.0" x2="795.9" y2="295.2" stroke="#3a3a3a" stroke-width="0.9"/>
<polygon points="793.6,290.5 795.9,296.7 798.2,290.5" fill="#999" stroke="#3a3a3a" stroke-width="0.9" stroke-linejoin="round"/>
<rect x="819.4" y="208.6" width="10.1" height="91.6" fill="none" stroke="#353535" stroke-width="1.0"/>
<line x1="819.4" y1="239.2" x2="829.5" y2="239.2" stroke="#353535" stroke-width="1.0"/>
<line x1="819.4" y1="269.5" x2="829.5" y2="269.5" stroke="#353535" stroke-width="1.0"/>
<line x1="824.5" y1="297.5" x2="824.5" y2="213.3" stroke="#3a3a3a" stroke-width="0.9"/>
<polygon points="822.2,218.0 824.5,211.8 826.8,218.0" fill="#999" stroke="#3a3a3a" stroke-width="0.9" stroke-linejoin="round"/>
<text x="785.3" y="222.2" font-size="5.2" text-anchor="middle" font-weight="bold" fill="#000" stroke="#000" stroke-width="0.25">112</text>
<text x="785.3" y="256.4" font-size="5.2" text-anchor="middle" font-weight="bold" fill="#000" stroke="#000" stroke-width="0.25">111</text>
<text x="785.3" y="286.7" font-size="5.2" text-anchor="middle" font-weight="bold" fill="#000" stroke="#000" stroke-width="0.25">110</text>
<text x="835.1" y="222.2" font-size="5.2" text-anchor="middle" font-weight="bold" fill="#000" stroke="#000" stroke-width="0.25">113</text>
<text x="835.1" y="256.4" font-size="5.2" text-anchor="middle" font-weight="bold" fill="#000" stroke="#000" stroke-width="0.25">114</text>
<text x="835.1" y="286.7" font-size="5.2" text-anchor="middle" font-weight="bold" fill="#000" stroke="#000" stroke-width="0.25">115</text>
<text x="802.0" y="238.8" font-size="5.5" text-anchor="start" fill="#111" stroke="#111" stroke-width="0.22">Bantu</text>
<text x="802.0" y="244.8" font-size="5.5" text-anchor="start" fill="#111" stroke="#111" stroke-width="0.22">Models</text>
<text x="802.0" y="250.8" font-size="5.5" text-anchor="start" fill="#111" stroke="#111" stroke-width="0.22">Works</text>
<rect x="794.7" y="300.2" width="31.0" height="9.5" fill="none" stroke="#353535" stroke-width="1.0"/>
<line x1="798.0" y1="305.0" x2="820.0" y2="305.0" stroke="#3a3a3a" stroke-width="0.9"/>
<polygon points="815.3,302.7 821.5,305.0 815.3,307.3" fill="#999" stroke="#3a3a3a" stroke-width="0.9" stroke-linejoin="round"/>
<text x="810.4" y="314.7" font-size="5.2" text-anchor="middle" font-weight="bold" fill="#000" stroke="#000" stroke-width="0.25">109</text>
<text x="811.7" y="324.3" font-size="5.8" text-anchor="middle" font-weight="bold" textLength="13.3" lengthAdjust="spacingAndGlyphs" fill="#000" stroke="#000" stroke-width="0.2">Row 2</text>
<text x="875.5" y="184.7" font-size="5.2" text-anchor="middle" font-weight="bold" fill="#000" stroke="#000" stroke-width="0.25">105</text>
<rect x="859.4" y="187.5" width="30.7" height="9.0" fill="none" stroke="#353535" stroke-width="1.0"/>
<line x1="886.5" y1="192.0" x2="864.5" y2="192.0" stroke="#3a3a3a" stroke-width="0.9"/>
<polygon points="869.2,189.7 863.0,192.0 869.2,194.3" fill="#999" stroke="#3a3a3a" stroke-width="0.9" stroke-linejoin="round"/>
<rect x="855.3" y="196.5" width="10.1" height="30.8" fill="none" stroke="#353535" stroke-width="1.0"/>
<line x1="860.3" y1="225.0" x2="860.3" y2="201.8" stroke="#3a3a3a" stroke-width="0.9"/>
<polygon points="858.0,206.5 860.3,200.3 862.6,206.5" fill="#999" stroke="#3a3a3a" stroke-width="0.9" stroke-linejoin="round"/>
<rect x="884.5" y="196.5" width="10.1" height="30.8" fill="none" stroke="#353535" stroke-width="1.0"/>
<line x1="889.5" y1="225.0" x2="889.5" y2="201.8" stroke="#3a3a3a" stroke-width="0.9"/>
<polygon points="887.2,206.5 889.5,200.3 891.8,206.5" fill="#999" stroke="#3a3a3a" stroke-width="0.9" stroke-linejoin="round"/>
<text x="850.2" y="213.9" font-size="5.2" text-anchor="middle" font-weight="bold" fill="#000" stroke="#000" stroke-width="0.25">104</text>
<text x="899.8" y="213.9" font-size="5.2" text-anchor="middle" font-weight="bold" fill="#000" stroke="#000" stroke-width="0.25">106</text>
<text x="874.4" y="231.8" font-size="5.5" text-anchor="middle" fill="#222" stroke="#222" stroke-width="0.22">Phantom</text>
<text x="874.4" y="237.8" font-size="5.5" text-anchor="middle" fill="#222" stroke="#222" stroke-width="0.22">Models</text>
<text x="874.4" y="243.8" font-size="5.5" text-anchor="middle" fill="#222" stroke="#222" stroke-width="0.22">Works</text>
<rect x="855.3" y="238.9" width="10.1" height="61.3" fill="none" stroke="#353535" stroke-width="1.0"/>
<line x1="855.3" y1="269.5" x2="865.4" y2="269.5" stroke="#353535" stroke-width="1.0"/>
<line x1="860.3" y1="242.0" x2="860.3" y2="295.7" stroke="#3a3a3a" stroke-width="0.9"/>
<polygon points="858.0,291.0 860.3,297.2 862.6,291.0" fill="#999" stroke="#3a3a3a" stroke-width="0.9" stroke-linejoin="round"/>
<rect x="884.5" y="238.9" width="10.1" height="61.3" fill="none" stroke="#353535" stroke-width="1.0"/>
<line x1="884.5" y1="269.5" x2="894.6" y2="269.5" stroke="#353535" stroke-width="1.0"/>
<line x1="889.5" y1="295.0" x2="889.5" y2="244.8" stroke="#3a3a3a" stroke-width="0.9"/>
<polygon points="887.2,249.5 889.5,243.3 891.8,249.5" fill="#999" stroke="#3a3a3a" stroke-width="0.9" stroke-linejoin="round"/>
<text x="850.2" y="256.4" font-size="5.2" text-anchor="middle" font-weight="bold" fill="#000" stroke="#000" stroke-width="0.25">103</text>
<text x="850.2" y="286.7" font-size="5.2" text-anchor="middle" font-weight="bold" fill="#000" stroke="#000" stroke-width="0.25">102</text>
<text x="899.8" y="256.4" font-size="5.2" text-anchor="middle" font-weight="bold" fill="#000" stroke="#000" stroke-width="0.25">107</text>
<text x="899.8" y="286.7" font-size="5.2" text-anchor="middle" font-weight="bold" fill="#000" stroke="#000" stroke-width="0.25">108</text>
<rect x="859.4" y="300.2" width="30.7" height="9.5" fill="none" stroke="#353535" stroke-width="1.0"/>
<line x1="863.0" y1="305.0" x2="885.0" y2="305.0" stroke="#3a3a3a" stroke-width="0.9"/>
<polygon points="880.3,302.7 886.5,305.0 880.3,307.3" fill="#999" stroke="#3a3a3a" stroke-width="0.9" stroke-linejoin="round"/>
<text x="875.0" y="314.7" font-size="5.2" text-anchor="middle" font-weight="bold" fill="#000" stroke="#000" stroke-width="0.25">101</text>
<text x="876.3" y="324.1" font-size="5.8" text-anchor="middle" font-weight="bold" textLength="13.3" lengthAdjust="spacingAndGlyphs" fill="#000" stroke="#000" stroke-width="0.2">Row 1</text>
<text x="293.2" y="335.5" font-size="5.2" text-anchor="middle" font-weight="bold" fill="#000" stroke="#000" stroke-width="0.25">96</text>
<rect x="277.3" y="338.4" width="31.2" height="9.0" fill="none" stroke="#353535" stroke-width="1.0"/>
<text x="293.0" y="344.7" font-size="5.5" text-anchor="middle" fill="#111" stroke="#111" stroke-width="0.22">3DP Train</text>
<rect x="273.6" y="347.4" width="10.4" height="61.3" fill="none" stroke="#353535" stroke-width="1.0"/>
<line x1="273.6" y1="378.2" x2="284.0" y2="378.2" stroke="#353535" stroke-width="1.0"/>
<line x1="278.8" y1="350.0" x2="278.8" y2="403.7" stroke="#3a3a3a" stroke-width="0.9"/>
<polygon points="276.5,399.0 278.8,405.2 281.1,399.0" fill="#999" stroke="#3a3a3a" stroke-width="0.9" stroke-linejoin="round"/>
<rect x="302.5" y="347.4" width="10.4" height="61.3" fill="none" stroke="#353535" stroke-width="1.0"/>
<line x1="302.5" y1="378.2" x2="312.9" y2="378.2" stroke="#353535" stroke-width="1.0"/>
<line x1="307.7" y1="350.0" x2="307.7" y2="403.7" stroke="#3a3a3a" stroke-width="0.9"/>
<polygon points="305.4,399.0 307.7,405.2 310.0,399.0" fill="#999" stroke="#3a3a3a" stroke-width="0.9" stroke-linejoin="round"/>
<text x="267.3" y="364.8" font-size="5.2" text-anchor="middle" font-weight="bold" fill="#000" stroke="#000" stroke-width="0.25">95</text>
<text x="267.3" y="395.3" font-size="5.2" text-anchor="middle" font-weight="bold" fill="#000" stroke="#000" stroke-width="0.25">94</text>
<text x="318.2" y="364.8" font-size="5.2" text-anchor="middle" font-weight="bold" fill="#000" stroke="#000" stroke-width="0.25">97</text>
<text x="318.2" y="395.3" font-size="5.2" text-anchor="middle" font-weight="bold" fill="#000" stroke="#000" stroke-width="0.25">98</text>
<rect x="273.6" y="419.8" width="10.4" height="61.7" fill="none" stroke="#353535" stroke-width="1.0"/>
<line x1="273.6" y1="451.0" x2="284.0" y2="451.0" stroke="#353535" stroke-width="1.0"/>
<line x1="278.8" y1="479.0" x2="278.8" y2="424.8" stroke="#3a3a3a" stroke-width="0.9"/>
<polygon points="276.5,429.5 278.8,423.3 281.1,429.5" fill="#999" stroke="#3a3a3a" stroke-width="0.9" stroke-linejoin="round"/>
<rect x="302.5" y="419.8" width="10.4" height="61.7" fill="none" stroke="#353535" stroke-width="1.0"/>
<line x1="302.5" y1="451.0" x2="312.9" y2="451.0" stroke="#353535" stroke-width="1.0"/>
<line x1="307.7" y1="479.0" x2="307.7" y2="424.8" stroke="#3a3a3a" stroke-width="0.9"/>
<polygon points="305.4,429.5 307.7,423.3 310.0,429.5" fill="#999" stroke="#3a3a3a" stroke-width="0.9" stroke-linejoin="round"/>
<text x="267.3" y="437.2" font-size="5.2" text-anchor="middle" font-weight="bold" fill="#000" stroke="#000" stroke-width="0.25">93</text>
<text x="267.3" y="467.7" font-size="5.2" text-anchor="middle" font-weight="bold" fill="#000" stroke="#000" stroke-width="0.25">92</text>
<text x="318.2" y="437.2" font-size="5.2" text-anchor="middle" font-weight="bold" fill="#000" stroke="#000" stroke-width="0.25">99</text>
<text x="319.0" y="467.7" font-size="5.2" text-anchor="middle" font-weight="bold" fill="#000" stroke="#000" stroke-width="0.25">100</text>
<rect x="277.3" y="481.5" width="31.2" height="9.5" fill="none" stroke="#353535" stroke-width="1.0"/>
<text x="293.0" y="488.0" font-size="5.5" text-anchor="middle" fill="#111" stroke="#111" stroke-width="0.22">Genat Estate</text>
<text x="293.2" y="496.6" font-size="5.2" text-anchor="middle" font-weight="bold" fill="#000" stroke="#000" stroke-width="0.25">91</text>
<text x="358.2" y="335.5" font-size="5.2" text-anchor="middle" font-weight="bold" fill="#000" stroke="#000" stroke-width="0.25">86</text>
<rect x="342.4" y="338.4" width="30.8" height="9.0" fill="none" stroke="#353535" stroke-width="1.0"/>
<text x="358.0" y="343.5" font-size="5.5" text-anchor="middle" fill="#222" stroke="#222" stroke-width="0.22">Wild West</text>
<text x="358.0" y="349.1" font-size="5.5" text-anchor="middle" fill="#222" stroke="#222" stroke-width="0.22">Models</text>
<rect x="339.0" y="347.4" width="9.9" height="122.0" fill="none" stroke="#353535" stroke-width="1.0"/>
<line x1="339.0" y1="378.2" x2="348.9" y2="378.2" stroke="#353535" stroke-width="1.0"/>
<line x1="339.0" y1="408.2" x2="348.9" y2="408.2" stroke="#353535" stroke-width="1.0"/>
<line x1="339.0" y1="438.9" x2="348.9" y2="438.9" stroke="#353535" stroke-width="1.0"/>
<line x1="344.0" y1="350.0" x2="344.0" y2="464.2" stroke="#3a3a3a" stroke-width="0.9"/>
<polygon points="341.7,459.5 344.0,465.7 346.3,459.5" fill="#999" stroke="#3a3a3a" stroke-width="0.9" stroke-linejoin="round"/>
<rect x="367.4" y="347.4" width="9.7" height="61.3" fill="none" stroke="#353535" stroke-width="1.0"/>
<line x1="367.4" y1="378.2" x2="377.1" y2="378.2" stroke="#353535" stroke-width="1.0"/>
<line x1="372.2" y1="368.0" x2="372.2" y2="403.2" stroke="#3a3a3a" stroke-width="0.9"/>
<polygon points="369.9,398.5 372.2,404.7 374.5,398.5" fill="#999" stroke="#3a3a3a" stroke-width="0.9" stroke-linejoin="round"/>
<rect x="367.4" y="419.8" width="9.7" height="61.7" fill="none" stroke="#353535" stroke-width="1.0"/>
<line x1="367.4" y1="451.0" x2="377.1" y2="451.0" stroke="#353535" stroke-width="1.0"/>
<line x1="372.2" y1="437.0" x2="372.2" y2="476.2" stroke="#3a3a3a" stroke-width="0.9"/>
<polygon points="369.9,471.5 372.2,477.7 374.5,471.5" fill="#999" stroke="#3a3a3a" stroke-width="0.9" stroke-linejoin="round"/>
<text x="333.2" y="364.8" font-size="5.2" text-anchor="middle" font-weight="bold" fill="#000" stroke="#000" stroke-width="0.25">85</text>
<text x="333.2" y="395.3" font-size="5.2" text-anchor="middle" font-weight="bold" fill="#000" stroke="#000" stroke-width="0.25">84</text>
<text x="333.2" y="426.1" font-size="5.2" text-anchor="middle" font-weight="bold" fill="#000" stroke="#000" stroke-width="0.25">83</text>
<text x="333.2" y="456.6" font-size="5.2" text-anchor="middle" font-weight="bold" fill="#000" stroke="#000" stroke-width="0.25">82</text>
<text x="381.7" y="364.8" font-size="5.2" text-anchor="middle" font-weight="bold" fill="#000" stroke="#000" stroke-width="0.25">87</text>
<text x="381.7" y="395.3" font-size="5.2" text-anchor="middle" font-weight="bold" fill="#000" stroke="#000" stroke-width="0.25">88</text>
<text x="381.7" y="437.2" font-size="5.2" text-anchor="middle" font-weight="bold" fill="#000" stroke="#000" stroke-width="0.25">89</text>
<text x="381.7" y="467.7" font-size="5.2" text-anchor="middle" font-weight="bold" fill="#000" stroke="#000" stroke-width="0.25">90</text>
<text x="374.0" y="354.8" font-size="5.5" text-anchor="middle" fill="#222" stroke="#222" stroke-width="0.22">Crescent Creek</text>
<text x="374.0" y="360.8" font-size="5.5" text-anchor="middle" fill="#222" stroke="#222" stroke-width="0.22">Design</text>
<text x="372.0" y="424.8" font-size="5.5" text-anchor="middle" fill="#222" stroke="#222" stroke-width="0.22">Miniature</text>
<text x="372.0" y="430.8" font-size="5.5" text-anchor="middle" fill="#222" stroke="#222" stroke-width="0.22">World</text>
<rect x="342.4" y="481.5" width="30.8" height="9.5" fill="none" stroke="#353535" stroke-width="1.0"/>
<text x="358.0" y="485.3" font-size="5.5" text-anchor="middle" fill="#222" stroke="#222" stroke-width="0.22">Sugar Cane</text>
<text x="358.0" y="490.8" font-size="5.5" text-anchor="middle" fill="#222" stroke="#222" stroke-width="0.22">Press</text>
<text x="358.2" y="496.6" font-size="5.2" text-anchor="middle" font-weight="bold" fill="#000" stroke="#000" stroke-width="0.25">81</text>
<text x="422.3" y="335.5" font-size="5.2" text-anchor="middle" font-weight="bold" fill="#000" stroke="#000" stroke-width="0.25">76</text>
<rect x="406.6" y="337.7" width="30.7" height="9.7" fill="none" stroke="#353535" stroke-width="1.0"/>
<text x="408.3" y="343.4" font-size="5.5" text-anchor="start" fill="#111" stroke="#111" stroke-width="0.22">Rail Dreams</text>
<text x="409.5" y="347.8" font-size="5.5" text-anchor="start" fill="#111" stroke="#111" stroke-width="0.22">MMBGR</text>
<rect x="402.6" y="347.4" width="10.2" height="60.8" fill="none" stroke="#353535" stroke-width="1.0"/>
<line x1="402.6" y1="377.7" x2="412.8" y2="377.7" stroke="#353535" stroke-width="1.0"/>
<line x1="407.7" y1="350.0" x2="407.7" y2="403.2" stroke="#3a3a3a" stroke-width="0.9"/>
<polygon points="405.4,398.5 407.7,404.7 410.0,398.5" fill="#999" stroke="#3a3a3a" stroke-width="0.9" stroke-linejoin="round"/>
<rect x="431.3" y="347.4" width="10.4" height="60.8" fill="none" stroke="#353535" stroke-width="1.0"/>
<line x1="431.3" y1="377.7" x2="441.7" y2="377.7" stroke="#353535" stroke-width="1.0"/>
<line x1="436.5" y1="350.0" x2="436.5" y2="403.2" stroke="#3a3a3a" stroke-width="0.9"/>
<polygon points="434.2,398.5 436.5,404.7 438.8,398.5" fill="#999" stroke="#3a3a3a" stroke-width="0.9" stroke-linejoin="round"/>
<text x="396.9" y="364.7" font-size="5.2" text-anchor="middle" font-weight="bold" fill="#000" stroke="#000" stroke-width="0.25">75</text>
<text x="396.9" y="395.3" font-size="5.2" text-anchor="middle" font-weight="bold" fill="#000" stroke="#000" stroke-width="0.25">74</text>
<text x="447.0" y="364.7" font-size="5.2" text-anchor="middle" font-weight="bold" fill="#000" stroke="#000" stroke-width="0.25">77</text>
<text x="447.0" y="395.3" font-size="5.2" text-anchor="middle" font-weight="bold" fill="#000" stroke="#000" stroke-width="0.25">78</text>
<rect x="402.6" y="419.8" width="10.2" height="61.7" fill="none" stroke="#353535" stroke-width="1.0"/>
<line x1="402.6" y1="450.3" x2="412.8" y2="450.3" stroke="#353535" stroke-width="1.0"/>
<line x1="407.7" y1="479.0" x2="407.7" y2="454.3" stroke="#3a3a3a" stroke-width="0.9"/>
<polygon points="405.4,459.0 407.7,452.8 410.0,459.0" fill="#999" stroke="#3a3a3a" stroke-width="0.9" stroke-linejoin="round"/>
<rect x="431.3" y="419.8" width="10.4" height="61.7" fill="none" stroke="#353535" stroke-width="1.0"/>
<line x1="431.3" y1="450.3" x2="441.7" y2="450.3" stroke="#353535" stroke-width="1.0"/>
<line x1="436.5" y1="479.0" x2="436.5" y2="424.8" stroke="#3a3a3a" stroke-width="0.9"/>
<polygon points="434.2,429.5 436.5,423.3 438.8,429.5" fill="#999" stroke="#3a3a3a" stroke-width="0.9" stroke-linejoin="round"/>
<text x="396.9" y="437.2" font-size="5.2" text-anchor="middle" font-weight="bold" fill="#000" stroke="#000" stroke-width="0.25">73</text>
<text x="396.9" y="467.7" font-size="5.2" text-anchor="middle" font-weight="bold" fill="#000" stroke="#000" stroke-width="0.25">72</text>
<text x="447.0" y="437.2" font-size="5.2" text-anchor="middle" font-weight="bold" fill="#000" stroke="#000" stroke-width="0.25">79</text>
<text x="447.0" y="467.7" font-size="5.2" text-anchor="middle" font-weight="bold" fill="#000" stroke="#000" stroke-width="0.25">80</text>
<text x="408.5" y="425.8" font-size="5.5" text-anchor="middle" fill="#222" stroke="#222" stroke-width="0.22">2029</text>
<text x="408.5" y="431.8" font-size="5.5" text-anchor="middle" fill="#222" stroke="#222" stroke-width="0.22">NNGC</text>
<rect x="406.6" y="481.5" width="30.7" height="9.2" fill="none" stroke="#353535" stroke-width="1.0"/>
<text x="422.0" y="485.2" font-size="5.5" text-anchor="middle" fill="#222" stroke="#222" stroke-width="0.22">Galloping</text>
<text x="422.0" y="490.7" font-size="5.5" text-anchor="middle" fill="#222" stroke="#222" stroke-width="0.22">Goose H.S.</text>
<text x="422.3" y="496.6" font-size="5.2" text-anchor="middle" font-weight="bold" fill="#000" stroke="#000" stroke-width="0.25">71</text>
<text x="487.0" y="335.5" font-size="5.2" text-anchor="middle" font-weight="bold" fill="#000" stroke="#000" stroke-width="0.25">66</text>
<rect x="471.3" y="337.7" width="30.5" height="9.7" fill="none" stroke="#353535" stroke-width="1.0"/>
<text x="486.5" y="343.4" font-size="5.5" text-anchor="middle" fill="#111" stroke="#111" stroke-width="0.22">Cleveland NG</text>
<rect x="467.4" y="347.4" width="10.1" height="60.8" fill="none" stroke="#353535" stroke-width="1.0"/>
<line x1="467.4" y1="377.7" x2="477.5" y2="377.7" stroke="#353535" stroke-width="1.0"/>
<line x1="472.4" y1="350.0" x2="472.4" y2="403.2" stroke="#3a3a3a" stroke-width="0.9"/>
<polygon points="470.1,398.5 472.4,404.7 474.7,398.5" fill="#999" stroke="#3a3a3a" stroke-width="0.9" stroke-linejoin="round"/>
<rect x="495.6" y="347.4" width="10.4" height="60.8" fill="none" stroke="#353535" stroke-width="1.0"/>
<line x1="495.6" y1="377.7" x2="506.0" y2="377.7" stroke="#353535" stroke-width="1.0"/>
<line x1="500.8" y1="350.0" x2="500.8" y2="403.2" stroke="#3a3a3a" stroke-width="0.9"/>
<polygon points="498.5,398.5 500.8,404.7 503.1,398.5" fill="#999" stroke="#3a3a3a" stroke-width="0.9" stroke-linejoin="round"/>
<text x="461.6" y="364.7" font-size="5.2" text-anchor="middle" font-weight="bold" fill="#000" stroke="#000" stroke-width="0.25">65</text>
<text x="461.6" y="395.3" font-size="5.2" text-anchor="middle" font-weight="bold" fill="#000" stroke="#000" stroke-width="0.25">64</text>
<text x="511.3" y="364.7" font-size="5.2" text-anchor="middle" font-weight="bold" fill="#000" stroke="#000" stroke-width="0.25">67</text>
<text x="511.3" y="395.3" font-size="5.2" text-anchor="middle" font-weight="bold" fill="#000" stroke="#000" stroke-width="0.25">68</text>
<rect x="467.4" y="419.8" width="10.1" height="61.7" fill="none" stroke="#353535" stroke-width="1.0"/>
<line x1="467.4" y1="450.3" x2="477.5" y2="450.3" stroke="#353535" stroke-width="1.0"/>
<line x1="472.4" y1="479.0" x2="472.4" y2="454.3" stroke="#3a3a3a" stroke-width="0.9"/>
<polygon points="470.1,459.0 472.4,452.8 474.7,459.0" fill="#999" stroke="#3a3a3a" stroke-width="0.9" stroke-linejoin="round"/>
<rect x="495.6" y="419.8" width="10.4" height="61.7" fill="none" stroke="#353535" stroke-width="1.0"/>
<line x1="495.6" y1="450.3" x2="506.0" y2="450.3" stroke="#353535" stroke-width="1.0"/>
<line x1="500.8" y1="479.0" x2="500.8" y2="424.8" stroke="#3a3a3a" stroke-width="0.9"/>
<polygon points="498.5,429.5 500.8,423.3 503.1,429.5" fill="#999" stroke="#3a3a3a" stroke-width="0.9" stroke-linejoin="round"/>
<text x="461.6" y="437.2" font-size="5.2" text-anchor="middle" font-weight="bold" fill="#000" stroke="#000" stroke-width="0.25">63</text>
<text x="461.6" y="467.7" font-size="5.2" text-anchor="middle" font-weight="bold" fill="#000" stroke="#000" stroke-width="0.25">62</text>
<text x="511.3" y="437.2" font-size="5.2" text-anchor="middle" font-weight="bold" fill="#000" stroke="#000" stroke-width="0.25">69</text>
<text x="511.3" y="467.7" font-size="5.2" text-anchor="middle" font-weight="bold" fill="#000" stroke="#000" stroke-width="0.25">70</text>
<text x="472.5" y="425.8" font-size="5.5" text-anchor="middle" fill="#222" stroke="#222" stroke-width="0.22">2027</text>
<text x="472.5" y="431.8" font-size="5.5" text-anchor="middle" fill="#222" stroke="#222" stroke-width="0.22">NNGC</text>
<rect x="471.3" y="481.5" width="30.5" height="9.2" fill="none" stroke="#353535" stroke-width="1.0"/>
<text x="486.5" y="485.2" font-size="5.5" text-anchor="middle" fill="#222" stroke="#222" stroke-width="0.22">White River</text>
<text x="486.5" y="490.7" font-size="5.5" text-anchor="middle" fill="#222" stroke="#222" stroke-width="0.22">Publications</text>
<text x="487.0" y="496.6" font-size="5.2" text-anchor="middle" font-weight="bold" fill="#000" stroke="#000" stroke-width="0.25">61</text>
<text x="551.6" y="335.5" font-size="5.2" text-anchor="middle" font-weight="bold" fill="#000" stroke="#000" stroke-width="0.25">56</text>
<rect x="536.1" y="337.7" width="31.0" height="9.3" fill="none" stroke="#353535" stroke-width="1.0"/>
<text x="551.5" y="344.1" font-size="5.5" text-anchor="middle" fill="#111" stroke="#111" stroke-width="0.22">Missouri Loco</text>
<rect x="532.4" y="347.0" width="10.0" height="61.2" fill="none" stroke="#353535" stroke-width="1.0"/>
<line x1="532.4" y1="377.0" x2="542.4" y2="377.0" stroke="#353535" stroke-width="1.0"/>
<line x1="537.4" y1="350.0" x2="537.4" y2="373.2" stroke="#3a3a3a" stroke-width="0.9"/>
<polygon points="535.1,368.5 537.4,374.7 539.7,368.5" fill="#999" stroke="#3a3a3a" stroke-width="0.9" stroke-linejoin="round"/>
<rect x="560.8" y="347.0" width="10.0" height="61.2" fill="none" stroke="#353535" stroke-width="1.0"/>
<line x1="560.8" y1="377.0" x2="570.8" y2="377.0" stroke="#353535" stroke-width="1.0"/>
<text x="526.2" y="364.7" font-size="5.2" text-anchor="middle" font-weight="bold" fill="#000" stroke="#000" stroke-width="0.25">55</text>
<text x="526.2" y="395.3" font-size="5.2" text-anchor="middle" font-weight="bold" fill="#000" stroke="#000" stroke-width="0.25">54</text>
<text x="576.3" y="364.7" font-size="5.2" text-anchor="middle" font-weight="bold" fill="#000" stroke="#000" stroke-width="0.25">57</text>
<text x="576.3" y="395.3" font-size="5.2" text-anchor="middle" font-weight="bold" fill="#000" stroke="#000" stroke-width="0.25">58</text>
<text x="536.0" y="385.8" font-size="5.5" text-anchor="middle" fill="#222" stroke="#222" stroke-width="0.22">Friends</text>
<text x="536.0" y="391.8" font-size="5.5" text-anchor="middle" fill="#222" stroke="#222" stroke-width="0.22">of 169</text>
<text x="566.0" y="354.8" font-size="5.5" text-anchor="middle" fill="#111" stroke="#111" stroke-width="0.22">NGPV</text>
<text x="568.0" y="385.8" font-size="5.5" text-anchor="middle" fill="#111" stroke="#111" stroke-width="0.22">Thurlow</text>
<rect x="532.4" y="419.3" width="10.0" height="62.2" fill="none" stroke="#353535" stroke-width="1.0"/>
<line x1="532.4" y1="450.3" x2="542.4" y2="450.3" stroke="#353535" stroke-width="1.0"/>
<line x1="537.4" y1="479.0" x2="537.4" y2="424.3" stroke="#3a3a3a" stroke-width="0.9"/>
<polygon points="535.1,429.0 537.4,422.8 539.7,429.0" fill="#999" stroke="#3a3a3a" stroke-width="0.9" stroke-linejoin="round"/>
<rect x="560.8" y="419.3" width="10.0" height="62.2" fill="none" stroke="#353535" stroke-width="1.0"/>
<line x1="560.8" y1="450.3" x2="570.8" y2="450.3" stroke="#353535" stroke-width="1.0"/>
<line x1="565.8" y1="479.0" x2="565.8" y2="424.3" stroke="#3a3a3a" stroke-width="0.9"/>
<polygon points="563.5,429.0 565.8,422.8 568.1,429.0" fill="#999" stroke="#3a3a3a" stroke-width="0.9" stroke-linejoin="round"/>
<text x="526.2" y="437.2" font-size="5.2" text-anchor="middle" font-weight="bold" fill="#000" stroke="#000" stroke-width="0.25">53</text>
<text x="526.2" y="467.7" font-size="5.2" text-anchor="middle" font-weight="bold" fill="#000" stroke="#000" stroke-width="0.25">52</text>
<text x="576.3" y="437.2" font-size="5.2" text-anchor="middle" font-weight="bold" fill="#000" stroke="#000" stroke-width="0.25">59</text>
<text x="576.3" y="467.7" font-size="5.2" text-anchor="middle" font-weight="bold" fill="#000" stroke="#000" stroke-width="0.25">60</text>
<rect x="536.1" y="481.5" width="31.0" height="8.7" fill="none" stroke="#353535" stroke-width="1.0"/>
<text x="551.5" y="485.0" font-size="5.5" text-anchor="middle" fill="#222" stroke="#222" stroke-width="0.22">Berkshire Valley</text>
<text x="551.5" y="490.5" font-size="5.5" text-anchor="middle" fill="#222" stroke="#222" stroke-width="0.22">Models</text>
<text x="551.6" y="496.6" font-size="5.2" text-anchor="middle" font-weight="bold" fill="#000" stroke="#000" stroke-width="0.25">51</text>
<text x="616.2" y="335.5" font-size="5.2" text-anchor="middle" font-weight="bold" fill="#000" stroke="#000" stroke-width="0.25">46</text>
<rect x="600.8" y="337.7" width="30.5" height="9.3" fill="none" stroke="#353535" stroke-width="1.0"/>
<text x="616.0" y="341.4" font-size="5.5" text-anchor="middle" fill="#222" stroke="#222" stroke-width="0.22">Leadville</text>
<text x="616.0" y="346.9" font-size="5.5" text-anchor="middle" fill="#222" stroke="#222" stroke-width="0.22">Design</text>
<rect x="597.1" y="347.0" width="9.5" height="61.2" fill="none" stroke="#353535" stroke-width="1.0"/>
<line x1="597.1" y1="377.0" x2="606.6" y2="377.0" stroke="#353535" stroke-width="1.0"/>
<line x1="601.9" y1="350.0" x2="601.9" y2="373.2" stroke="#3a3a3a" stroke-width="0.9"/>
<polygon points="599.6,368.5 601.9,374.7 604.2,368.5" fill="#999" stroke="#3a3a3a" stroke-width="0.9" stroke-linejoin="round"/>
<rect x="625.6" y="347.0" width="9.9" height="61.2" fill="none" stroke="#353535" stroke-width="1.0"/>
<line x1="625.6" y1="377.0" x2="635.5" y2="377.0" stroke="#353535" stroke-width="1.0"/>
<line x1="630.5" y1="380.0" x2="630.5" y2="403.2" stroke="#3a3a3a" stroke-width="0.9"/>
<polygon points="628.2,398.5 630.5,404.7 632.8,398.5" fill="#999" stroke="#3a3a3a" stroke-width="0.9" stroke-linejoin="round"/>
<text x="590.9" y="364.7" font-size="5.2" text-anchor="middle" font-weight="bold" fill="#000" stroke="#000" stroke-width="0.25">45</text>
<text x="590.9" y="395.3" font-size="5.2" text-anchor="middle" font-weight="bold" fill="#000" stroke="#000" stroke-width="0.25">44</text>
<text x="640.6" y="364.7" font-size="5.2" text-anchor="middle" font-weight="bold" fill="#000" stroke="#000" stroke-width="0.25">47</text>
<text x="640.6" y="395.3" font-size="5.2" text-anchor="middle" font-weight="bold" fill="#000" stroke="#000" stroke-width="0.25">48</text>
<text x="630.5" y="353.9" font-size="5.5" text-anchor="middle" fill="#222" stroke="#222" stroke-width="0.22">Randy</text>
<text x="630.5" y="359.5" font-size="5.5" text-anchor="middle" fill="#222" stroke="#222" stroke-width="0.22">Allie</text>
<text x="630.5" y="365.1" font-size="5.5" text-anchor="middle" fill="#222" stroke="#222" stroke-width="0.22">Tan</text>
<text x="630.5" y="370.7" font-size="5.5" text-anchor="middle" fill="#222" stroke="#222" stroke-width="0.22">Posters</text>
<text x="602.0" y="384.8" font-size="5.5" text-anchor="middle" fill="#222" stroke="#222" stroke-width="0.22">Fall</text>
<text x="602.0" y="390.8" font-size="5.5" text-anchor="middle" fill="#222" stroke="#222" stroke-width="0.22">Creek</text>
<text x="602.0" y="396.8" font-size="5.5" text-anchor="middle" fill="#222" stroke="#222" stroke-width="0.22">Models</text>
<rect x="597.1" y="419.3" width="9.5" height="62.2" fill="none" stroke="#353535" stroke-width="1.0"/>
<line x1="597.1" y1="450.3" x2="606.6" y2="450.3" stroke="#353535" stroke-width="1.0"/>
<rect x="625.6" y="419.3" width="9.9" height="62.2" fill="none" stroke="#353535" stroke-width="1.0"/>
<line x1="625.6" y1="450.3" x2="635.5" y2="450.3" stroke="#353535" stroke-width="1.0"/>
<text x="590.9" y="437.2" font-size="5.2" text-anchor="middle" font-weight="bold" fill="#000" stroke="#000" stroke-width="0.25">43</text>
<text x="590.9" y="467.7" font-size="5.2" text-anchor="middle" font-weight="bold" fill="#000" stroke="#000" stroke-width="0.25">42</text>
<text x="640.6" y="437.2" font-size="5.2" text-anchor="middle" font-weight="bold" fill="#000" stroke="#000" stroke-width="0.25">49</text>
<text x="640.6" y="467.7" font-size="5.2" text-anchor="middle" font-weight="bold" fill="#000" stroke="#000" stroke-width="0.25">50</text>
<text x="600.5" y="426.8" font-size="5.5" text-anchor="middle" fill="#111" stroke="#111" stroke-width="0.22">Sohica</text>
<text x="629.0" y="425.8" font-size="5.5" text-anchor="middle" fill="#222" stroke="#222" stroke-width="0.22">Cumbres</text>
<text x="629.0" y="431.8" font-size="5.5" text-anchor="middle" fill="#222" stroke="#222" stroke-width="0.22">Model Works</text>
<text x="601.5" y="457.8" font-size="5.5" text-anchor="middle" fill="#111" stroke="#111" stroke-width="0.22">Smith/Sabin</text>
<text x="630.5" y="457.8" font-size="5.5" text-anchor="middle" fill="#111" stroke="#111" stroke-width="0.22">Linz</text>
<rect x="600.8" y="481.5" width="30.5" height="8.7" fill="none" stroke="#353535" stroke-width="1.0"/>
<text x="616.0" y="485.0" font-size="5.5" text-anchor="middle" fill="#222" stroke="#222" stroke-width="0.22">Allard &amp;</text>
<text x="616.0" y="490.5" font-size="5.5" text-anchor="middle" fill="#222" stroke="#222" stroke-width="0.22">Diehl</text>
<text x="616.2" y="496.6" font-size="5.2" text-anchor="middle" font-weight="bold" fill="#000" stroke="#000" stroke-width="0.25">41</text>
<text x="681.1" y="334.7" font-size="5.2" text-anchor="middle" font-weight="bold" fill="#000" stroke="#000" stroke-width="0.25">36</text>
<rect x="665.4" y="336.6" width="30.5" height="9.7" fill="none" stroke="#353535" stroke-width="1.0"/>
<text x="680.5" y="340.6" font-size="5.5" text-anchor="middle" fill="#222" stroke="#222" stroke-width="0.22">Iron Creek</text>
<text x="680.5" y="346.1" font-size="5.5" text-anchor="middle" fill="#222" stroke="#222" stroke-width="0.22">Shops</text>
<rect x="662.0" y="346.3" width="9.7" height="30.7" fill="none" stroke="#353535" stroke-width="1.0"/>
<line x1="666.9" y1="349.0" x2="666.9" y2="372.2" stroke="#3a3a3a" stroke-width="0.9"/>
<polygon points="664.6,367.5 666.9,373.7 669.2,367.5" fill="#999" stroke="#3a3a3a" stroke-width="0.9" stroke-linejoin="round"/>
<rect x="690.4" y="346.3" width="9.7" height="30.7" fill="none" stroke="#353535" stroke-width="1.0"/>
<line x1="695.2" y1="349.0" x2="695.2" y2="372.2" stroke="#3a3a3a" stroke-width="0.9"/>
<polygon points="692.9,367.5 695.2,373.7 697.5,367.5" fill="#999" stroke="#3a3a3a" stroke-width="0.9" stroke-linejoin="round"/>
<text x="656.2" y="363.7" font-size="5.2" text-anchor="middle" font-weight="bold" fill="#000" stroke="#000" stroke-width="0.25">35</text>
<text x="705.4" y="363.7" font-size="5.2" text-anchor="middle" font-weight="bold" fill="#000" stroke="#000" stroke-width="0.25">37</text>
<rect x="662.0" y="388.6" width="9.7" height="91.2" fill="none" stroke="#353535" stroke-width="1.0"/>
<line x1="662.0" y1="419.3" x2="671.7" y2="419.3" stroke="#353535" stroke-width="1.0"/>
<line x1="662.0" y1="449.3" x2="671.7" y2="449.3" stroke="#353535" stroke-width="1.0"/>
<line x1="666.9" y1="407.7" x2="666.9" y2="430.2" stroke="#3a3a3a" stroke-width="0.9"/>
<polygon points="664.6,425.5 666.9,431.7 669.2,425.5" fill="#999" stroke="#3a3a3a" stroke-width="0.9" stroke-linejoin="round"/>
<line x1="666.9" y1="477.0" x2="666.9" y2="453.8" stroke="#3a3a3a" stroke-width="0.9"/>
<polygon points="664.6,458.5 666.9,452.3 669.2,458.5" fill="#999" stroke="#3a3a3a" stroke-width="0.9" stroke-linejoin="round"/>
<rect x="690.4" y="388.6" width="9.7" height="91.2" fill="none" stroke="#353535" stroke-width="1.0"/>
<line x1="690.4" y1="419.3" x2="700.1" y2="419.3" stroke="#353535" stroke-width="1.0"/>
<line x1="690.4" y1="449.3" x2="700.1" y2="449.3" stroke="#353535" stroke-width="1.0"/>
<line x1="695.2" y1="407.0" x2="695.2" y2="429.7" stroke="#3a3a3a" stroke-width="0.9"/>
<polygon points="692.9,425.0 695.2,431.2 697.5,425.0" fill="#999" stroke="#3a3a3a" stroke-width="0.9" stroke-linejoin="round"/>
<text x="656.2" y="405.3" font-size="5.2" text-anchor="middle" font-weight="bold" fill="#000" stroke="#000" stroke-width="0.25">34</text>
<text x="656.2" y="436.0" font-size="5.2" text-anchor="middle" font-weight="bold" fill="#000" stroke="#000" stroke-width="0.25">33</text>
<text x="656.2" y="466.5" font-size="5.2" text-anchor="middle" font-weight="bold" fill="#000" stroke="#000" stroke-width="0.25">32</text>
<text x="705.4" y="405.3" font-size="5.2" text-anchor="middle" font-weight="bold" fill="#000" stroke="#000" stroke-width="0.25">38</text>
<text x="705.4" y="436.0" font-size="5.2" text-anchor="middle" font-weight="bold" fill="#000" stroke="#000" stroke-width="0.25">39</text>
<text x="705.4" y="466.5" font-size="5.2" text-anchor="middle" font-weight="bold" fill="#000" stroke="#000" stroke-width="0.25">40</text>
<text x="681.0" y="397.8" font-size="5.5" text-anchor="middle" fill="#222" stroke="#222" stroke-width="0.22">Phoenix Model</text>
<text x="681.0" y="403.8" font-size="5.5" text-anchor="middle" fill="#222" stroke="#222" stroke-width="0.22">Buildings</text>
<rect x="665.4" y="479.8" width="30.5" height="9.7" fill="none" stroke="#353535" stroke-width="1.0"/>
<text x="680.5" y="483.7" font-size="5.5" text-anchor="middle" fill="#222" stroke="#222" stroke-width="0.22">Plus Logging</text>
<text x="680.5" y="489.2" font-size="5.5" text-anchor="middle" fill="#222" stroke="#222" stroke-width="0.22">&amp; NG</text>
<text x="681.0" y="494.9" font-size="5.2" text-anchor="middle" font-weight="bold" fill="#000" stroke="#000" stroke-width="0.25">31</text>
<text x="745.8" y="334.7" font-size="5.2" text-anchor="middle" font-weight="bold" fill="#000" stroke="#000" stroke-width="0.25">26</text>
<rect x="730.1" y="336.6" width="30.8" height="9.7" fill="none" stroke="#353535" stroke-width="1.0"/>
<text x="748.0" y="344.1" font-size="5.5" text-anchor="middle" textLength="45.0" lengthAdjust="spacingAndGlyphs" fill="#111" stroke="#111" stroke-width="0.22">Kershaw Craftsman</text>
<text x="742.3" y="349.9" font-size="5.5" text-anchor="middle" fill="#111" stroke="#111" stroke-width="0.22">Kits</text>
<rect x="726.2" y="346.3" width="10.4" height="60.7" fill="none" stroke="#353535" stroke-width="1.0"/>
<line x1="726.2" y1="376.3" x2="736.6" y2="376.3" stroke="#353535" stroke-width="1.0"/>
<line x1="731.4" y1="349.0" x2="731.4" y2="402.2" stroke="#3a3a3a" stroke-width="0.9"/>
<polygon points="729.1,397.5 731.4,403.7 733.7,397.5" fill="#999" stroke="#3a3a3a" stroke-width="0.9" stroke-linejoin="round"/>
<rect x="754.9" y="346.3" width="9.9" height="30.7" fill="none" stroke="#353535" stroke-width="1.0"/>
<line x1="759.9" y1="349.0" x2="759.9" y2="372.2" stroke="#3a3a3a" stroke-width="0.9"/>
<polygon points="757.6,367.5 759.9,373.7 762.2,367.5" fill="#999" stroke="#3a3a3a" stroke-width="0.9" stroke-linejoin="round"/>
<text x="720.4" y="363.7" font-size="5.2" text-anchor="middle" font-weight="bold" fill="#000" stroke="#000" stroke-width="0.25">25</text>
<text x="720.4" y="394.2" font-size="5.2" text-anchor="middle" font-weight="bold" fill="#000" stroke="#000" stroke-width="0.25">24</text>
<text x="770.1" y="363.7" font-size="5.2" text-anchor="middle" font-weight="bold" fill="#000" stroke="#000" stroke-width="0.25">27</text>
<rect x="754.9" y="387.9" width="9.9" height="91.9" fill="none" stroke="#353535" stroke-width="1.0"/>
<line x1="754.9" y1="418.6" x2="764.8" y2="418.6" stroke="#353535" stroke-width="1.0"/>
<line x1="754.9" y1="449.3" x2="764.8" y2="449.3" stroke="#353535" stroke-width="1.0"/>
<line x1="759.9" y1="477.0" x2="759.9" y2="392.8" stroke="#3a3a3a" stroke-width="0.9"/>
<polygon points="757.6,397.5 759.9,391.3 762.2,397.5" fill="#999" stroke="#3a3a3a" stroke-width="0.9" stroke-linejoin="round"/>
<rect x="726.2" y="418.6" width="10.4" height="61.2" fill="none" stroke="#353535" stroke-width="1.0"/>
<line x1="726.2" y1="449.3" x2="736.6" y2="449.3" stroke="#353535" stroke-width="1.0"/>
<line x1="731.4" y1="477.0" x2="731.4" y2="423.3" stroke="#3a3a3a" stroke-width="0.9"/>
<polygon points="729.1,428.0 731.4,421.8 733.7,428.0" fill="#999" stroke="#3a3a3a" stroke-width="0.9" stroke-linejoin="round"/>
<text x="770.1" y="406.0" font-size="5.2" text-anchor="middle" font-weight="bold" fill="#000" stroke="#000" stroke-width="0.25">28</text>
<text x="770.1" y="436.0" font-size="5.2" text-anchor="middle" font-weight="bold" fill="#000" stroke="#000" stroke-width="0.25">29</text>
<text x="770.1" y="466.5" font-size="5.2" text-anchor="middle" font-weight="bold" fill="#000" stroke="#000" stroke-width="0.25">30</text>
<text x="720.4" y="436.0" font-size="5.2" text-anchor="middle" font-weight="bold" fill="#000" stroke="#000" stroke-width="0.25">23</text>
<text x="720.4" y="466.5" font-size="5.2" text-anchor="middle" font-weight="bold" fill="#000" stroke="#000" stroke-width="0.25">22</text>
<rect x="730.1" y="479.8" width="30.8" height="9.7" fill="none" stroke="#353535" stroke-width="1.0"/>
<text x="745.5" y="486.4" font-size="5.5" text-anchor="middle" fill="#111" stroke="#111" stroke-width="0.22">Reinforced Rails</text>
<text x="745.8" y="494.9" font-size="5.2" text-anchor="middle" font-weight="bold" fill="#000" stroke="#000" stroke-width="0.25">21</text>
<text x="810.9" y="333.6" font-size="5.2" text-anchor="middle" font-weight="bold" fill="#000" stroke="#000" stroke-width="0.25">16</text>
<rect x="794.5" y="336.2" width="31.4" height="9.5" fill="none" stroke="#353535" stroke-width="1.0"/>
<text x="810.0" y="340.1" font-size="5.5" text-anchor="middle" fill="#222" stroke="#222" stroke-width="0.22">Caboose Shop</text>
<text x="810.0" y="345.6" font-size="5.5" text-anchor="middle" fill="#222" stroke="#222" stroke-width="0.22">Hobbies</text>
<rect x="790.7" y="345.7" width="10.2" height="61.6" fill="none" stroke="#353535" stroke-width="1.0"/>
<line x1="790.7" y1="376.6" x2="800.9" y2="376.6" stroke="#353535" stroke-width="1.0"/>
<line x1="795.8" y1="348.5" x2="795.8" y2="402.2" stroke="#3a3a3a" stroke-width="0.9"/>
<polygon points="793.5,397.5 795.8,403.7 798.1,397.5" fill="#999" stroke="#3a3a3a" stroke-width="0.9" stroke-linejoin="round"/>
<rect x="819.5" y="345.7" width="10.0" height="92.0" fill="none" stroke="#353535" stroke-width="1.0"/>
<line x1="819.5" y1="376.6" x2="829.5" y2="376.6" stroke="#353535" stroke-width="1.0"/>
<line x1="819.5" y1="407.3" x2="829.5" y2="407.3" stroke="#353535" stroke-width="1.0"/>
<line x1="824.5" y1="350.0" x2="824.5" y2="432.2" stroke="#3a3a3a" stroke-width="0.9"/>
<polygon points="822.2,427.5 824.5,433.7 826.8,427.5" fill="#999" stroke="#3a3a3a" stroke-width="0.9" stroke-linejoin="round"/>
<text x="784.7" y="363.3" font-size="5.2" text-anchor="middle" font-weight="bold" fill="#000" stroke="#000" stroke-width="0.25">15</text>
<text x="784.7" y="393.5" font-size="5.2" text-anchor="middle" font-weight="bold" fill="#000" stroke="#000" stroke-width="0.25">14</text>
<text x="834.7" y="363.3" font-size="5.2" text-anchor="middle" font-weight="bold" fill="#000" stroke="#000" stroke-width="0.25">17</text>
<text x="834.7" y="393.5" font-size="5.2" text-anchor="middle" font-weight="bold" fill="#000" stroke="#000" stroke-width="0.25">18</text>
<text x="834.7" y="424.4" font-size="5.2" text-anchor="middle" font-weight="bold" fill="#000" stroke="#000" stroke-width="0.25">19</text>
<rect x="790.7" y="418.7" width="10.2" height="60.6" fill="none" stroke="#353535" stroke-width="1.0"/>
<line x1="790.7" y1="449.1" x2="800.9" y2="449.1" stroke="#353535" stroke-width="1.0"/>
<line x1="795.8" y1="437.0" x2="795.8" y2="460.7" stroke="#3a3a3a" stroke-width="0.9"/>
<polygon points="793.5,456.0 795.8,462.2 798.1,456.0" fill="#999" stroke="#3a3a3a" stroke-width="0.9" stroke-linejoin="round"/>
<rect x="819.5" y="449.1" width="10.0" height="30.2" fill="none" stroke="#353535" stroke-width="1.0"/>
<text x="784.7" y="435.9" font-size="5.2" text-anchor="middle" font-weight="bold" fill="#000" stroke="#000" stroke-width="0.25">13</text>
<text x="784.7" y="466.1" font-size="5.2" text-anchor="middle" font-weight="bold" fill="#000" stroke="#000" stroke-width="0.25">12</text>
<text x="834.7" y="466.1" font-size="5.2" text-anchor="middle" font-weight="bold" fill="#000" stroke="#000" stroke-width="0.25">20</text>
<text x="797.0" y="422.8" font-size="5.5" text-anchor="middle" fill="#222" stroke="#222" stroke-width="0.22">Empire</text>
<text x="797.0" y="428.8" font-size="5.5" text-anchor="middle" fill="#222" stroke="#222" stroke-width="0.22">Trackworks</text>
<rect x="794.5" y="479.3" width="31.4" height="10.3" fill="none" stroke="#353535" stroke-width="1.0"/>
<text x="810.0" y="483.5" font-size="5.5" text-anchor="middle" fill="#222" stroke="#222" stroke-width="0.22">NNGC</text>
<text x="810.0" y="489.0" font-size="5.5" text-anchor="middle" fill="#222" stroke="#222" stroke-width="0.22">2026</text>
<text x="810.9" y="494.6" font-size="5.2" text-anchor="middle" font-weight="bold" fill="#000" stroke="#000" stroke-width="0.25">11</text>
<text x="874.6" y="333.6" font-size="5.2" text-anchor="middle" font-weight="bold" fill="#000" stroke="#000" stroke-width="0.25">6</text>
<rect x="859.2" y="336.2" width="30.9" height="9.5" fill="none" stroke="#353535" stroke-width="1.0"/>
<text x="874.5" y="340.1" font-size="5.5" text-anchor="middle" fill="#222" stroke="#222" stroke-width="0.22">E. Iowa NG</text>
<text x="874.5" y="345.6" font-size="5.5" text-anchor="middle" fill="#222" stroke="#222" stroke-width="0.22">Building Bits</text>
<rect x="855.6" y="345.7" width="10.0" height="61.6" fill="none" stroke="#353535" stroke-width="1.0"/>
<line x1="855.6" y1="376.6" x2="865.6" y2="376.6" stroke="#353535" stroke-width="1.0"/>
<line x1="860.6" y1="348.5" x2="860.6" y2="402.2" stroke="#3a3a3a" stroke-width="0.9"/>
<polygon points="858.3,397.5 860.6,403.7 862.9,397.5" fill="#999" stroke="#3a3a3a" stroke-width="0.9" stroke-linejoin="round"/>
<rect x="884.2" y="345.7" width="10.2" height="61.6" fill="none" stroke="#353535" stroke-width="1.0"/>
<line x1="884.2" y1="376.6" x2="894.4" y2="376.6" stroke="#353535" stroke-width="1.0"/>
<text x="850.1" y="363.3" font-size="5.2" text-anchor="middle" font-weight="bold" fill="#000" stroke="#000" stroke-width="0.25">5</text>
<text x="850.1" y="393.5" font-size="5.2" text-anchor="middle" font-weight="bold" fill="#000" stroke="#000" stroke-width="0.25">4</text>
<text x="899.6" y="363.3" font-size="5.2" text-anchor="middle" font-weight="bold" fill="#000" stroke="#000" stroke-width="0.25">7</text>
<text x="899.6" y="393.5" font-size="5.2" text-anchor="middle" font-weight="bold" fill="#000" stroke="#000" stroke-width="0.25">8</text>
<text x="890.0" y="357.8" font-size="5.5" text-anchor="middle" fill="#111" stroke="#111" stroke-width="0.22">Ron Hatch</text>
<text x="888.0" y="383.8" font-size="5.5" text-anchor="middle" fill="#111" stroke="#111" stroke-width="0.22">Crafty Rail</text>
<rect x="855.6" y="418.7" width="10.0" height="60.6" fill="none" stroke="#353535" stroke-width="1.0"/>
<line x1="855.6" y1="449.1" x2="865.6" y2="449.1" stroke="#353535" stroke-width="1.0"/>
<line x1="860.6" y1="477.0" x2="860.6" y2="453.3" stroke="#3a3a3a" stroke-width="0.9"/>
<polygon points="858.3,458.0 860.6,451.8 862.9,458.0" fill="#999" stroke="#3a3a3a" stroke-width="0.9" stroke-linejoin="round"/>
<rect x="884.2" y="418.7" width="10.2" height="60.6" fill="none" stroke="#353535" stroke-width="1.0"/>
<line x1="884.2" y1="449.1" x2="894.4" y2="449.1" stroke="#353535" stroke-width="1.0"/>
<text x="850.1" y="435.9" font-size="5.2" text-anchor="middle" font-weight="bold" fill="#000" stroke="#000" stroke-width="0.25">3</text>
<text x="850.1" y="466.1" font-size="5.2" text-anchor="middle" font-weight="bold" fill="#000" stroke="#000" stroke-width="0.25">2</text>
<text x="899.6" y="435.9" font-size="5.2" text-anchor="middle" font-weight="bold" fill="#000" stroke="#000" stroke-width="0.25">9</text>
<text x="899.6" y="466.1" font-size="5.2" text-anchor="middle" font-weight="bold" fill="#000" stroke="#000" stroke-width="0.25">10</text>
<text x="861.0" y="423.8" font-size="5.5" text-anchor="middle" fill="#222" stroke="#222" stroke-width="0.22">Precision</text>
<text x="861.0" y="429.8" font-size="5.5" text-anchor="middle" fill="#222" stroke="#222" stroke-width="0.22">Measurement</text>
<text x="889.5" y="423.8" font-size="5.5" text-anchor="middle" fill="#222" stroke="#222" stroke-width="0.22">Joe's</text>
<text x="889.5" y="429.8" font-size="5.5" text-anchor="middle" fill="#222" stroke="#222" stroke-width="0.22">Sn3</text>
<rect x="859.2" y="479.3" width="30.9" height="10.3" fill="none" stroke="#353535" stroke-width="1.0"/>
<text x="874.5" y="486.2" font-size="5.5" text-anchor="middle" fill="#111" stroke="#111" stroke-width="0.22">Steve Lillard</text>
<text x="874.6" y="494.6" font-size="5.2" text-anchor="middle" font-weight="bold" fill="#000" stroke="#000" stroke-width="0.25">1</text>
</svg>
</body></html>
